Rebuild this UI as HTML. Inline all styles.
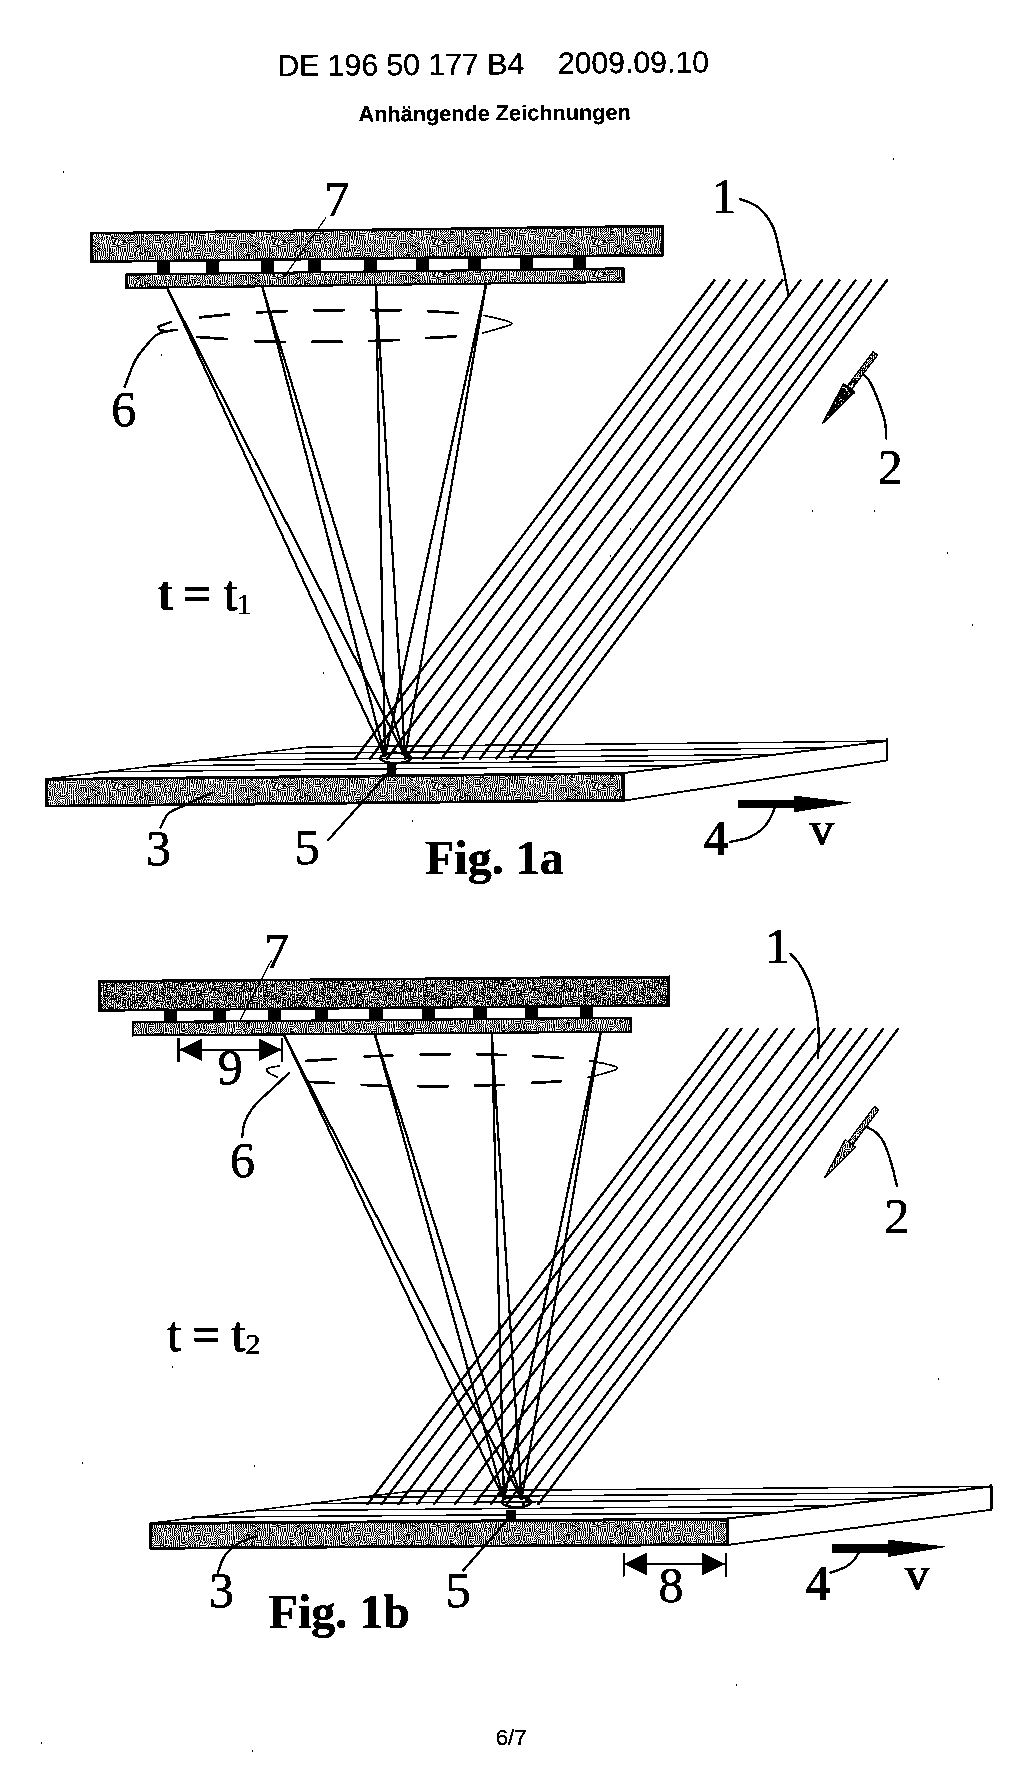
<!DOCTYPE html>
<html lang="de">
<head>
<meta charset="utf-8">
<title>DE 196 50 177 B4 – Anhängende Zeichnungen</title>
<style>
html,body{margin:0;padding:0;background:#fff;}
body{width:1024px;height:1771px;overflow:hidden;}
svg{display:block;}
text{fill:#000;}
</style>
</head>
<body>
<svg width="1024" height="1771" viewBox="0 0 1024 1771">
<defs>
<pattern id="dz" width="160" height="32" patternUnits="userSpaceOnUse">
<rect width="160" height="32" fill="#fff"/>
<path d="M0 0v1h1v-1zM0 2v1h1v-1zM0 5v1h1v-1zM0 7v4h1v-4zM0 13v1h1v-1zM0 15v5h1v-5zM0 24v4h1v-4zM1 1v1h1v-1zM1 3v5h1v-5zM1 9v1h1v-1zM1 13v1h1v-1zM1 15v1h1v-1zM1 20v4h1v-4zM1 28v4h1v-4zM2 0v1h1v-1zM2 2v1h1v-1zM2 8v2h1v-2zM2 11v2h1v-2zM2 14v1h1v-1zM2 16v1h1v-1zM2 18v2h1v-2zM2 24v2h1v-2zM2 27v1h1v-1zM3 1v1h1v-1zM3 3v8h1v-8zM3 13v1h1v-1zM3 15v1h1v-1zM3 20v4h1v-4zM3 29v3h1v-3zM4 10v3h1v-3zM4 14v1h1v-1zM4 16v4h1v-4zM4 24v4h1v-4zM5 0v8h1v-8zM5 9v2h1v-2zM5 13v1h1v-1zM5 15v1h1v-1zM5 17v2h1v-2zM5 20v5h1v-5zM5 26v1h1v-1zM6 4v4h1v-4zM6 9v1h1v-1zM6 11v2h1v-2zM6 14v1h1v-1zM6 17v1h1v-1zM6 20v1h1v-1zM6 22v1h1v-1zM6 24v1h1v-1zM6 26v6h1v-6zM7 0v2h1v-2zM7 3v1h1v-1zM7 9v1h1v-1zM7 11v1h1v-1zM7 13v1h1v-1zM7 15v2h1v-2zM7 18v1h1v-1zM7 23v1h1v-1zM8 4v4h1v-4zM8 10v1h1v-1zM8 12v1h1v-1zM8 14v1h1v-1zM8 17v2h1v-2zM8 20v1h1v-1zM8 24v2h1v-2zM8 27v3h1v-3zM8 31v1h1v-1zM9 0v1h1v-1zM9 2v1h1v-1zM9 9v2h1v-2zM9 13v1h1v-1zM9 16v1h1v-1zM9 21v1h1v-1zM9 23v2h1v-2zM9 26v1h1v-1zM10 1v1h1v-1zM10 3v2h1v-2zM10 6v2h1v-2zM10 12v1h1v-1zM10 14v1h1v-1zM10 16v5h1v-5zM10 22v1h1v-1zM10 24v5h1v-5zM10 30v2h1v-2zM11 0v1h1v-1zM11 2v1h1v-1zM11 4v1h1v-1zM11 6v6h1v-6zM11 13v1h1v-1zM11 20v4h1v-4zM12 1v1h1v-1zM12 3v1h1v-1zM12 13v1h1v-1zM12 15v5h1v-5zM12 24v8h1v-8zM13 0v1h1v-1zM13 2v1h1v-1zM13 4v9h1v-9zM13 14v1h1v-1zM13 20v1h1v-1zM13 22v2h1v-2zM14 1v3h1v-3zM14 13v1h1v-1zM14 15v4h1v-4zM14 24v8h1v-8zM15 4v9h1v-9zM15 14v1h1v-1zM15 20v5h1v-5zM15 26v1h1v-1zM15 29v1h1v-1zM15 31v1h1v-1zM16 0v4h1v-4zM16 13v1h1v-1zM16 15v2h1v-2zM16 18v6h1v-6zM16 27v2h1v-2zM16 30v1h1v-1zM17 4v2h1v-2zM17 7v9h1v-9zM17 24v1h1v-1zM17 26v1h1v-1zM17 29v1h1v-1zM17 31v1h1v-1zM18 0v4h1v-4zM18 16v8h1v-8zM18 25v1h1v-1zM18 27v2h1v-2zM18 30v1h1v-1zM19 0v16h1v-16zM19 24v1h1v-1zM19 26v1h1v-1zM19 29v1h1v-1zM19 31v1h1v-1zM20 9v1h1v-1zM20 11v1h1v-1zM20 17v1h1v-1zM20 19v9h1v-9zM21 0v7h1v-7zM21 9v1h1v-1zM21 11v1h1v-1zM21 13v1h1v-1zM21 15v2h1v-2zM21 20v1h1v-1zM21 22v1h1v-1zM21 28v4h1v-4zM22 4v1h1v-1zM22 6v2h1v-2zM22 9v1h1v-1zM22 11v1h1v-1zM22 17v1h1v-1zM22 19v2h1v-2zM22 22v1h1v-1zM22 24v4h1v-4zM23 1v3h1v-3zM23 6v2h1v-2zM23 9v1h1v-1zM23 11v6h1v-6zM23 18v1h1v-1zM23 20v1h1v-1zM23 22v1h1v-1zM23 28v4h1v-4zM24 0v5h1v-5zM24 6v2h1v-2zM24 9v1h1v-1zM24 11v1h1v-1zM24 17v1h1v-1zM24 19v1h1v-1zM24 22v1h1v-1zM24 24v4h1v-4zM25 5v2h1v-2zM25 8v1h1v-1zM25 10v1h1v-1zM25 12v9h1v-9zM25 22v1h1v-1zM25 25v1h1v-1zM25 27v1h1v-1zM26 2v1h1v-1zM26 4v1h1v-1zM26 6v1h1v-1zM26 8v1h1v-1zM26 11v1h1v-1zM26 24v1h1v-1zM26 26v6h1v-6zM27 5v1h1v-1zM27 7v2h1v-2zM27 11v7h1v-7zM27 19v7h1v-7zM27 27v1h1v-1zM28 0v5h1v-5zM28 6v1h1v-1zM28 9v2h1v-2zM28 26v3h1v-3zM28 30v2h1v-2zM29 1v1h1v-1zM29 3v1h1v-1zM29 5v1h1v-1zM29 7v2h1v-2zM29 10v17h1v-17zM30 0v1h1v-1zM30 2v1h1v-1zM30 4v1h1v-1zM30 6v1h1v-1zM30 8v4h1v-4zM30 25v3h1v-3zM31 1v1h1v-1zM31 3v1h1v-1zM31 5v1h1v-1zM31 7v1h1v-1zM31 12v3h1v-3zM31 17v2h1v-2zM31 21v1h1v-1zM31 23v1h1v-1zM31 28v4h1v-4zM32 0v1h1v-1zM32 2v1h1v-1zM32 4v1h1v-1zM32 6v1h1v-1zM32 8v8h1v-8zM32 21v1h1v-1zM32 23v5h1v-5zM33 1v1h1v-1zM33 3v1h1v-1zM33 5v1h1v-1zM33 7v1h1v-1zM33 16v4h1v-4zM33 23v1h1v-1zM33 28v4h1v-4zM34 0v1h1v-1zM34 2v3h1v-3zM34 6v1h1v-1zM34 8v8h1v-8zM34 21v1h1v-1zM34 23v5h1v-5zM35 5v1h1v-1zM35 7v5h1v-5zM35 21v1h1v-1zM35 23v1h1v-1zM35 25v2h1v-2zM35 29v1h1v-1zM35 31v1h1v-1zM36 0v3h1v-3zM36 4v2h1v-2zM36 12v1h1v-1zM36 14v7h1v-7zM36 22v1h1v-1zM36 24v1h1v-1zM36 29v1h1v-1zM36 31v1h1v-1zM37 4v1h1v-1zM37 6v1h1v-1zM37 8v8h1v-8zM37 21v1h1v-1zM37 23v1h1v-1zM37 26v2h1v-2zM37 29v1h1v-1zM37 31v1h1v-1zM38 0v5h1v-5zM38 16v4h1v-4zM38 22v1h1v-1zM38 24v1h1v-1zM38 26v1h1v-1zM38 29v1h1v-1zM38 31v1h1v-1zM39 1v3h1v-3zM39 6v6h1v-6zM39 13v3h1v-3zM39 21v1h1v-1zM39 23v2h1v-2zM39 26v1h1v-1zM39 29v1h1v-1zM39 31v1h1v-1zM40 4v3h1v-3zM40 9v1h1v-1zM40 11v1h1v-1zM40 16v5h1v-5zM40 22v1h1v-1zM40 25v1h1v-1zM40 27v5h1v-5zM41 0v4h1v-4zM41 5v1h1v-1zM41 9v1h1v-1zM41 11v5h1v-5zM41 24v1h1v-1zM41 26v1h1v-1zM42 6v2h1v-2zM42 9v1h1v-1zM42 11v1h1v-1zM42 16v8h1v-8zM42 25v1h1v-1zM42 27v5h1v-5zM43 0v5h1v-5zM43 9v1h1v-1zM43 11v5h1v-5zM43 24v1h1v-1zM43 26v1h1v-1zM44 0v1h1v-1zM44 2v3h1v-3zM44 6v2h1v-2zM44 9v1h1v-1zM44 11v1h1v-1zM44 16v8h1v-8zM44 25v1h1v-1zM44 28v1h1v-1zM44 30v2h1v-2zM45 5v2h1v-2zM45 9v1h1v-1zM45 12v1h1v-1zM45 14v2h1v-2zM45 17v3h1v-3zM45 24v4h1v-4zM45 29v1h1v-1zM45 31v1h1v-1zM46 0v5h1v-5zM46 6v1h1v-1zM46 8v1h1v-1zM46 20v1h1v-1zM46 22v1h1v-1zM46 29v1h1v-1zM47 5v1h1v-1zM47 7v1h1v-1zM47 16v4h1v-4zM47 21v1h1v-1zM47 24v4h1v-4zM47 29v1h1v-1zM47 31v1h1v-1zM48 0v1h1v-1zM48 2v3h1v-3zM48 6v1h1v-1zM48 9v7h1v-7zM48 20v1h1v-1zM48 22v1h1v-1zM48 29v1h1v-1zM48 31v1h1v-1zM49 5v1h1v-1zM49 7v2h1v-2zM49 16v1h1v-1zM49 18v1h1v-1zM49 21v1h1v-1zM49 23v5h1v-5zM49 29v1h1v-1zM49 31v1h1v-1zM50 0v1h1v-1zM50 2v3h1v-3zM50 6v1h1v-1zM50 10v1h1v-1zM50 13v4h1v-4zM50 18v1h1v-1zM50 20v1h1v-1zM50 22v1h1v-1zM50 24v4h1v-4zM51 5v1h1v-1zM51 7v2h1v-2zM51 10v1h1v-1zM51 17v1h1v-1zM51 19v1h1v-1zM51 28v4h1v-4zM52 0v1h1v-1zM52 2v2h1v-2zM52 7v2h1v-2zM52 10v1h1v-1zM52 16v1h1v-1zM52 18v1h1v-1zM52 21v7h1v-7zM53 5v1h1v-1zM53 7v1h1v-1zM53 10v1h1v-1zM53 12v4h1v-4zM53 17v1h1v-1zM53 19v1h1v-1zM53 28v4h1v-4zM54 1v1h1v-1zM54 3v1h1v-1zM54 5v1h1v-1zM54 7v2h1v-2zM54 10v1h1v-1zM54 16v1h1v-1zM54 18v1h1v-1zM54 20v8h1v-8zM55 0v1h1v-1zM55 2v1h1v-1zM55 5v1h1v-1zM55 7v1h1v-1zM55 9v1h1v-1zM55 11v3h1v-3zM55 15v5h1v-5zM55 25v1h1v-1zM55 27v1h1v-1zM55 29v1h1v-1zM55 31v1h1v-1zM56 1v1h1v-1zM56 3v6h1v-6zM56 10v1h1v-1zM56 20v1h1v-1zM56 22v1h1v-1zM56 24v1h1v-1zM56 26v1h1v-1zM56 28v1h1v-1zM56 30v1h1v-1zM57 0v1h1v-1zM57 2v1h1v-1zM57 9v1h1v-1zM57 11v1h1v-1zM57 13v1h1v-1zM57 16v4h1v-4zM57 21v1h1v-1zM57 23v1h1v-1zM57 27v1h1v-1zM57 29v1h1v-1zM57 31v1h1v-1zM58 1v1h1v-1zM58 3v6h1v-6zM58 10v1h1v-1zM58 13v1h1v-1zM58 20v1h1v-1zM58 22v1h1v-1zM58 24v1h1v-1zM58 26v1h1v-1zM58 28v1h1v-1zM58 30v1h1v-1zM59 1v1h1v-1zM59 3v1h1v-1zM59 9v1h1v-1zM59 11v2h1v-2zM59 14v6h1v-6zM59 21v1h1v-1zM59 25v1h1v-1zM59 27v1h1v-1zM59 29v1h1v-1zM59 31v1h1v-1zM60 2v1h1v-1zM60 4v4h1v-4zM60 9v1h1v-1zM60 11v2h1v-2zM60 14v1h1v-1zM60 20v1h1v-1zM60 22v1h1v-1zM60 24v5h1v-5zM60 30v1h1v-1zM61 3v1h1v-1zM61 8v1h1v-1zM61 10v1h1v-1zM61 12v1h1v-1zM61 16v4h1v-4zM61 28v1h1v-1zM61 30v1h1v-1zM62 0v1h1v-1zM62 2v1h1v-1zM62 4v4h1v-4zM62 9v1h1v-1zM62 11v1h1v-1zM62 20v6h1v-6zM62 27v2h1v-2zM62 30v1h1v-1zM63 1v1h1v-1zM63 3v1h1v-1zM63 8v1h1v-1zM63 10v1h1v-1zM63 12v5h1v-5zM63 18v2h1v-2zM63 28v1h1v-1zM63 30v1h1v-1zM64 4v4h1v-4zM64 9v1h1v-1zM64 11v1h1v-1zM64 20v6h1v-6zM64 27v2h1v-2zM64 30v1h1v-1zM65 0v4h1v-4zM65 12v8h1v-8zM65 27v1h1v-1zM65 29v1h1v-1zM65 31v1h1v-1zM66 8v4h1v-4zM66 24v3h1v-3zM66 28v1h1v-1zM66 30v1h1v-1zM67 0v8h1v-8zM67 12v1h1v-1zM67 14v1h1v-1zM67 16v9h1v-9zM67 26v2h1v-2zM67 29v1h1v-1zM67 31v1h1v-1zM68 8v5h1v-5zM68 14v1h1v-1zM68 25v1h1v-1zM68 28v1h1v-1zM68 30v1h1v-1zM69 0v5h1v-5zM69 6v2h1v-2zM69 12v1h1v-1zM69 14v1h1v-1zM69 16v5h1v-5zM69 22v2h1v-2zM69 25v1h1v-1zM69 27v1h1v-1zM69 29v1h1v-1zM69 31v1h1v-1zM70 8v1h1v-1zM70 10v3h1v-3zM70 14v1h1v-1zM70 16v1h1v-1zM70 18v1h1v-1zM71 0v4h1v-4zM71 8v2h1v-2zM71 14v1h1v-1zM71 17v1h1v-1zM71 19v7h1v-7zM71 27v4h1v-4zM72 4v6h1v-6zM72 12v1h1v-1zM72 14v1h1v-1zM72 16v1h1v-1zM72 18v1h1v-1zM73 0v4h1v-4zM73 8v1h1v-1zM73 10v1h1v-1zM73 12v1h1v-1zM73 14v1h1v-1zM73 17v1h1v-1zM73 19v2h1v-2zM73 22v10h1v-10zM74 0v8h1v-8zM74 10v3h1v-3zM74 14v1h1v-1zM74 16v1h1v-1zM74 18v1h1v-1zM75 9v1h1v-1zM75 11v2h1v-2zM75 14v1h1v-1zM75 20v4h1v-4zM75 25v1h1v-1zM75 27v1h1v-1zM76 0v3h1v-3zM76 5v1h1v-1zM76 8v1h1v-1zM76 10v1h1v-1zM76 12v1h1v-1zM76 16v5h1v-5zM76 22v1h1v-1zM76 24v1h1v-1zM76 26v1h1v-1zM76 28v4h1v-4zM77 5v1h1v-1zM77 7v1h1v-1zM77 9v1h1v-1zM77 11v1h1v-1zM77 13v3h1v-3zM77 21v1h1v-1zM77 23v1h1v-1zM77 25v1h1v-1zM77 27v1h1v-1zM78 0v4h1v-4zM78 5v1h1v-1zM78 8v1h1v-1zM78 10v1h1v-1zM78 16v5h1v-5zM78 22v1h1v-1zM78 24v1h1v-1zM78 26v1h1v-1zM78 28v4h1v-4zM79 0v1h1v-1zM79 2v1h1v-1zM79 5v1h1v-1zM79 7v1h1v-1zM79 9v1h1v-1zM79 12v4h1v-4zM79 21v1h1v-1zM79 23v1h1v-1zM79 25v1h1v-1zM79 27v1h1v-1zM80 1v1h1v-1zM80 3v1h1v-1zM80 5v1h1v-1zM80 7v1h1v-1zM80 17v1h1v-1zM80 19v2h1v-2zM80 22v1h1v-1zM80 24v1h1v-1zM80 26v1h1v-1zM80 28v1h1v-1zM80 30v1h1v-1zM81 0v1h1v-1zM81 2v1h1v-1zM81 4v1h1v-1zM81 6v1h1v-1zM81 8v8h1v-8zM81 17v1h1v-1zM81 19v5h1v-5zM81 25v1h1v-1zM81 27v1h1v-1zM81 29v1h1v-1zM81 31v1h1v-1zM82 1v1h1v-1zM82 3v2h1v-2zM82 17v1h1v-1zM82 19v1h1v-1zM82 24v1h1v-1zM82 26v1h1v-1zM82 28v1h1v-1zM82 30v1h1v-1zM83 0v1h1v-1zM83 2v1h1v-1zM83 5v2h1v-2zM83 8v1h1v-1zM83 10v6h1v-6zM83 17v1h1v-1zM83 19v5h1v-5zM83 25v1h1v-1zM83 27v1h1v-1zM83 29v1h1v-1zM83 31v1h1v-1zM84 0v4h1v-4zM84 5v3h1v-3zM84 17v1h1v-1zM84 19v1h1v-1zM84 24v1h1v-1zM84 26v1h1v-1zM84 30v1h1v-1zM85 4v2h1v-2zM85 7v9h1v-9zM85 17v1h1v-1zM85 19v5h1v-5zM85 29v1h1v-1zM85 31v1h1v-1zM86 0v4h1v-4zM86 5v1h1v-1zM86 7v1h1v-1zM86 16v1h1v-1zM86 18v1h1v-1zM86 20v5h1v-5zM86 26v2h1v-2zM86 30v2h1v-2zM87 4v1h1v-1zM87 6v1h1v-1zM87 8v3h1v-3zM87 12v1h1v-1zM87 14v1h1v-1zM87 17v1h1v-1zM87 19v1h1v-1zM87 28v4h1v-4zM88 0v4h1v-4zM88 7v1h1v-1zM88 13v1h1v-1zM88 15v2h1v-2zM88 18v1h1v-1zM88 20v9h1v-9zM88 30v2h1v-2zM89 0v3h1v-3zM89 4v1h1v-1zM89 6v1h1v-1zM89 9v2h1v-2zM89 12v1h1v-1zM89 14v1h1v-1zM89 17v1h1v-1zM89 19v1h1v-1zM89 28v1h1v-1zM89 30v2h1v-2zM90 5v1h1v-1zM90 8v1h1v-1zM90 10v2h1v-2zM90 13v1h1v-1zM90 15v1h1v-1zM90 17v1h1v-1zM90 19v6h1v-6zM90 26v1h1v-1zM90 28v1h1v-1zM90 30v1h1v-1zM91 0v2h1v-2zM91 3v1h1v-1zM91 6v4h1v-4zM91 11v2h1v-2zM91 14v1h1v-1zM91 16v1h1v-1zM91 18v1h1v-1zM91 21v1h1v-1zM91 25v1h1v-1zM91 27v1h1v-1zM91 29v1h1v-1zM91 31v1h1v-1zM92 4v6h1v-6zM92 11v2h1v-2zM92 14v1h1v-1zM92 17v1h1v-1zM92 19v6h1v-6zM92 26v1h1v-1zM92 28v1h1v-1zM92 30v1h1v-1zM93 0v4h1v-4zM93 5v1h1v-1zM93 9v1h1v-1zM93 15v2h1v-2zM93 18v1h1v-1zM93 21v2h1v-2zM93 25v1h1v-1zM93 27v1h1v-1zM93 29v1h1v-1zM93 31v1h1v-1zM94 4v6h1v-6zM94 12v1h1v-1zM94 17v1h1v-1zM94 19v1h1v-1zM94 21v2h1v-2zM94 24v1h1v-1zM94 26v1h1v-1zM94 28v1h1v-1zM94 30v1h1v-1zM95 0v4h1v-4zM95 13v1h1v-1zM95 15v2h1v-2zM95 18v3h1v-3zM95 22v2h1v-2zM95 25v7h1v-7zM96 4v1h1v-1zM96 6v1h1v-1zM96 8v5h1v-5zM96 14v1h1v-1zM96 18v1h1v-1zM96 20v1h1v-1zM96 22v1h1v-1zM96 26v2h1v-2zM97 0v5h1v-5zM97 6v1h1v-1zM97 13v1h1v-1zM97 15v1h1v-1zM97 17v1h1v-1zM97 19v1h1v-1zM97 21v1h1v-1zM97 23v3h1v-3zM97 27v5h1v-5zM98 4v1h1v-1zM98 6v1h1v-1zM98 8v5h1v-5zM98 14v1h1v-1zM98 16v1h1v-1zM98 18v3h1v-3zM98 22v1h1v-1zM98 24v2h1v-2zM98 27v1h1v-1zM99 4v1h1v-1zM99 6v1h1v-1zM99 13v1h1v-1zM99 15v1h1v-1zM99 17v1h1v-1zM99 19v1h1v-1zM99 21v1h1v-1zM99 23v4h1v-4zM99 28v4h1v-4zM100 0v5h1v-5zM100 6v1h1v-1zM100 14v1h1v-1zM100 20v1h1v-1zM100 22v1h1v-1zM100 24v1h1v-1zM100 26v1h1v-1zM101 4v8h1v-8zM101 13v1h1v-1zM101 15v3h1v-3zM101 19v1h1v-1zM101 25v1h1v-1zM101 27v5h1v-5zM102 0v2h1v-2zM102 3v1h1v-1zM102 12v4h1v-4zM102 20v5h1v-5zM102 26v1h1v-1zM103 4v8h1v-8zM103 16v1h1v-1zM103 18v2h1v-2zM103 25v1h1v-1zM103 27v5h1v-5zM104 1v1h1v-1zM104 3v1h1v-1zM104 13v3h1v-3zM104 20v5h1v-5zM104 26v1h1v-1zM105 0v1h1v-1zM105 2v1h1v-1zM105 4v2h1v-2zM105 7v1h1v-1zM105 10v1h1v-1zM105 24v8h1v-8zM106 1v1h1v-1zM106 3v2h1v-2zM106 6v1h1v-1zM106 8v1h1v-1zM106 10v1h1v-1zM106 12v3h1v-3zM106 16v4h1v-4zM107 0v1h1v-1zM107 2v1h1v-1zM107 8v1h1v-1zM107 10v1h1v-1zM107 12v2h1v-2zM107 15v1h1v-1zM107 20v8h1v-8zM107 29v3h1v-3zM108 1v1h1v-1zM108 3v6h1v-6zM108 10v1h1v-1zM108 16v4h1v-4zM109 0v4h1v-4zM109 8v1h1v-1zM109 10v1h1v-1zM109 13v3h1v-3zM109 20v12h1v-12zM110 4v8h1v-8zM110 16v1h1v-1zM110 18v2h1v-2zM110 24v4h1v-4zM110 29v1h1v-1zM110 31v1h1v-1zM111 0v5h1v-5zM111 6v1h1v-1zM111 12v4h1v-4zM111 22v1h1v-1zM111 28v2h1v-2zM112 5v1h1v-1zM112 7v3h1v-3zM112 11v4h1v-4zM112 16v3h1v-3zM112 20v1h1v-1zM112 22v1h1v-1zM112 24v5h1v-5zM112 30v2h1v-2zM113 1v4h1v-4zM113 6v1h1v-1zM113 13v2h1v-2zM113 18v3h1v-3zM113 22v1h1v-1zM113 28v1h1v-1zM113 30v2h1v-2zM114 5v1h1v-1zM114 7v6h1v-6zM114 14v1h1v-1zM114 16v5h1v-5zM114 22v1h1v-1zM114 25v3h1v-3zM114 29v1h1v-1zM114 31v1h1v-1zM115 0v5h1v-5zM115 6v1h1v-1zM115 12v1h1v-1zM115 14v4h1v-4zM115 20v1h1v-1zM115 22v1h1v-1zM116 4v9h1v-9zM116 14v2h1v-2zM116 21v1h1v-1zM116 23v4h1v-4zM116 28v4h1v-4zM117 0v4h1v-4zM117 12v1h1v-1zM117 14v1h1v-1zM117 19v4h1v-4zM118 4v4h1v-4zM118 9v3h1v-3zM118 13v1h1v-1zM118 15v4h1v-4zM118 21v9h1v-9zM118 31v1h1v-1zM119 12v1h1v-1zM119 14v1h1v-1zM119 16v1h1v-1zM119 21v1h1v-1zM119 23v1h1v-1zM120 0v9h1v-9zM120 10v1h1v-1zM120 13v1h1v-1zM120 15v1h1v-1zM120 19v1h1v-1zM120 21v1h1v-1zM120 23v5h1v-5zM121 5v1h1v-1zM121 7v1h1v-1zM121 9v1h1v-1zM121 11v2h1v-2zM121 14v1h1v-1zM121 16v1h1v-1zM121 20v1h1v-1zM121 22v1h1v-1zM121 28v4h1v-4zM122 0v5h1v-5zM122 6v1h1v-1zM122 8v1h1v-1zM122 10v1h1v-1zM122 13v1h1v-1zM122 15v2h1v-2zM122 18v1h1v-1zM122 20v1h1v-1zM122 22v1h1v-1zM122 24v4h1v-4zM123 5v1h1v-1zM123 7v1h1v-1zM123 11v2h1v-2zM123 14v1h1v-1zM123 16v5h1v-5zM123 22v1h1v-1zM123 28v4h1v-4zM124 4v1h1v-1zM124 6v1h1v-1zM124 8v1h1v-1zM124 10v1h1v-1zM124 13v1h1v-1zM124 15v4h1v-4zM124 20v1h1v-1zM124 22v1h1v-1zM124 24v4h1v-4zM125 0v4h1v-4zM125 5v1h1v-1zM125 7v1h1v-1zM125 10v1h1v-1zM125 12v1h1v-1zM125 14v1h1v-1zM125 16v3h1v-3zM125 20v1h1v-1zM125 22v1h1v-1zM125 24v4h1v-4zM126 4v4h1v-4zM126 9v1h1v-1zM126 11v1h1v-1zM126 13v1h1v-1zM126 18v2h1v-2zM126 28v4h1v-4zM127 0v4h1v-4zM127 8v1h1v-1zM127 10v1h1v-1zM127 13v1h1v-1zM127 15v2h1v-2zM127 18v1h1v-1zM127 20v8h1v-8zM128 4v4h1v-4zM128 9v1h1v-1zM128 11v2h1v-2zM128 14v1h1v-1zM128 16v2h1v-2zM128 19v1h1v-1zM128 28v4h1v-4zM129 0v1h1v-1zM129 2v1h1v-1zM129 10v1h1v-1zM129 13v1h1v-1zM129 15v2h1v-2zM129 18v10h1v-10zM130 0v1h1v-1zM130 2v1h1v-1zM130 4v9h1v-9zM130 14v1h1v-1zM130 16v1h1v-1zM130 18v1h1v-1zM130 29v3h1v-3zM131 0v1h1v-1zM131 2v1h1v-1zM131 4v2h1v-2zM131 7v2h1v-2zM131 10v1h1v-1zM131 13v1h1v-1zM131 15v2h1v-2zM131 18v1h1v-1zM131 20v1h1v-1zM131 22v1h1v-1zM131 24v4h1v-4zM132 0v1h1v-1zM132 2v1h1v-1zM132 5v1h1v-1zM132 7v4h1v-4zM132 13v1h1v-1zM132 15v2h1v-2zM132 18v1h1v-1zM132 23v1h1v-1zM132 28v1h1v-1zM132 30v2h1v-2zM133 2v1h1v-1zM133 4v1h1v-1zM133 7v2h1v-2zM133 10v1h1v-1zM133 12v1h1v-1zM133 14v1h1v-1zM133 16v1h1v-1zM133 18v1h1v-1zM133 20v1h1v-1zM133 22v1h1v-1zM133 24v4h1v-4zM134 1v1h1v-1zM134 3v1h1v-1zM134 8v1h1v-1zM134 10v2h1v-2zM134 13v1h1v-1zM134 15v1h1v-1zM134 18v1h1v-1zM134 21v1h1v-1zM134 23v1h1v-1zM134 28v4h1v-4zM135 0v1h1v-1zM135 2v1h1v-1zM135 6v2h1v-2zM135 12v1h1v-1zM135 14v1h1v-1zM135 16v2h1v-2zM135 19v2h1v-2zM135 22v1h1v-1zM135 24v1h1v-1zM135 27v5h1v-5zM136 1v1h1v-1zM136 3v1h1v-1zM136 8v4h1v-4zM136 13v1h1v-1zM136 15v1h1v-1zM136 20v1h1v-1zM136 22v1h1v-1zM136 24v4h1v-4zM137 0v1h1v-1zM137 2v1h1v-1zM137 4v1h1v-1zM137 6v1h1v-1zM137 12v8h1v-8zM137 21v3h1v-3zM137 26v1h1v-1zM137 28v1h1v-1zM137 30v2h1v-2zM138 1v1h1v-1zM138 3v1h1v-1zM138 5v1h1v-1zM138 7v2h1v-2zM138 10v2h1v-2zM138 21v3h1v-3zM138 25v1h1v-1zM139 4v1h1v-1zM139 6v1h1v-1zM139 12v11h1v-11zM139 24v1h1v-1zM139 28v4h1v-4zM140 0v4h1v-4zM140 5v1h1v-1zM140 7v1h1v-1zM140 21v1h1v-1zM140 23v7h1v-7zM140 31v1h1v-1zM141 4v17h1v-17zM141 22v1h1v-1zM141 28v3h1v-3zM142 0v4h1v-4zM142 12v1h1v-1zM142 14v2h1v-2zM142 21v1h1v-1zM142 23v5h1v-5zM142 29v2h1v-2zM143 4v10h1v-10zM143 15v3h1v-3zM143 19v2h1v-2zM143 22v1h1v-1zM143 29v1h1v-1zM144 0v4h1v-4zM144 21v1h1v-1zM144 23v6h1v-6zM144 31v1h1v-1zM145 4v5h1v-5zM145 13v2h1v-2zM145 16v2h1v-2zM145 19v2h1v-2zM145 22v1h1v-1zM145 25v7h1v-7zM146 0v11h1v-11zM146 12v1h1v-1zM146 14v2h1v-2zM146 23v1h1v-1zM146 25v1h1v-1zM146 27v1h1v-1zM147 9v2h1v-2zM147 12v1h1v-1zM147 14v1h1v-1zM147 16v5h1v-5zM147 22v1h1v-1zM147 24v1h1v-1zM147 26v6h1v-6zM148 0v8h1v-8zM148 9v1h1v-1zM148 11v1h1v-1zM148 13v1h1v-1zM148 15v1h1v-1zM148 21v1h1v-1zM148 23v3h1v-3zM148 27v1h1v-1zM149 0v1h1v-1zM149 2v1h1v-1zM149 8v1h1v-1zM149 12v1h1v-1zM149 14v1h1v-1zM149 16v5h1v-5zM149 22v1h1v-1zM149 24v1h1v-1zM149 27v5h1v-5zM150 0v1h1v-1zM150 2v1h1v-1zM150 4v3h1v-3zM150 9v1h1v-1zM150 11v1h1v-1zM150 13v1h1v-1zM150 17v1h1v-1zM150 19v1h1v-1zM150 21v1h1v-1zM150 23v2h1v-2zM150 26v1h1v-1zM150 28v4h1v-4zM151 0v1h1v-1zM151 2v1h1v-1zM151 4v1h1v-1zM151 6v1h1v-1zM151 8v1h1v-1zM151 10v1h1v-1zM151 12v1h1v-1zM151 14v1h1v-1zM151 16v1h1v-1zM151 18v1h1v-1zM151 25v1h1v-1zM151 27v1h1v-1zM152 0v1h1v-1zM152 2v1h1v-1zM152 5v1h1v-1zM152 7v1h1v-1zM152 9v1h1v-1zM152 11v1h1v-1zM152 17v1h1v-1zM152 19v6h1v-6zM152 26v1h1v-1zM152 28v4h1v-4zM153 0v1h1v-1zM153 2v1h1v-1zM153 4v1h1v-1zM153 8v1h1v-1zM153 10v1h1v-1zM153 12v5h1v-5zM153 18v1h1v-1zM153 25v1h1v-1zM153 27v1h1v-1zM154 5v1h1v-1zM154 7v1h1v-1zM154 9v1h1v-1zM154 11v1h1v-1zM154 20v5h1v-5zM154 26v1h1v-1zM154 28v4h1v-4zM155 0v5h1v-5zM155 6v1h1v-1zM155 9v1h1v-1zM155 11v6h1v-6zM155 18v1h1v-1zM155 24v4h1v-4zM155 29v1h1v-1zM155 31v1h1v-1zM156 5v1h1v-1zM156 7v1h1v-1zM156 9v1h1v-1zM156 11v1h1v-1zM156 16v1h1v-1zM156 18v1h1v-1zM156 21v3h1v-3zM156 28v1h1v-1zM156 30v1h1v-1zM157 0v5h1v-5zM157 6v1h1v-1zM157 9v1h1v-1zM157 11v3h1v-3zM157 15v2h1v-2zM157 18v1h1v-1zM157 24v4h1v-4zM157 29v1h1v-1zM157 31v1h1v-1zM158 5v1h1v-1zM158 7v1h1v-1zM158 9v1h1v-1zM158 11v1h1v-1zM158 16v1h1v-1zM158 18v1h1v-1zM158 20v2h1v-2zM158 23v1h1v-1zM158 28v1h1v-1zM158 30v1h1v-1zM159 0v5h1v-5zM159 6v1h1v-1zM159 9v1h1v-1zM159 11v6h1v-6zM159 18v1h1v-1zM159 24v1h1v-1zM159 26v2h1v-2zM159 29v1h1v-1zM159 31v1h1v-1z" fill="#000" shape-rendering="crispEdges"/>
</pattern>
<pattern id="dk" width="160" height="32" patternUnits="userSpaceOnUse">
<rect width="160" height="32" fill="#fff"/>
<path d="M0 0v1h1v-1zM0 3v2h1v-2zM0 6v1h1v-1zM0 8v2h1v-2zM0 11v1h1v-1zM0 16v2h1v-2zM0 22v2h1v-2zM0 25v1h1v-1zM0 30v1h1v-1zM1 0v3h1v-3zM1 4v1h1v-1zM1 9v1h1v-1zM1 11v13h1v-13zM1 26v1h1v-1zM1 28v2h1v-2zM1 31v1h1v-1zM2 0v3h1v-3zM2 4v6h1v-6zM2 11v2h1v-2zM2 16v1h1v-1zM2 18v1h1v-1zM2 22v1h1v-1zM2 26v5h1v-5zM3 0v4h1v-4zM3 5v2h1v-2zM3 9v2h1v-2zM3 13v6h1v-6zM3 20v6h1v-6zM3 28v4h1v-4zM4 0v1h1v-1zM4 2v7h1v-7zM4 12v1h1v-1zM4 16v1h1v-1zM4 18v1h1v-1zM4 20v8h1v-8zM4 29v1h1v-1zM5 0v2h1v-2zM5 3v1h1v-1zM5 8v7h1v-7zM5 16v3h1v-3zM5 23v1h1v-1zM5 25v7h1v-7zM6 3v3h1v-3zM6 7v1h1v-1zM6 10v1h1v-1zM6 14v1h1v-1zM6 16v3h1v-3zM6 20v4h1v-4zM6 27v1h1v-1zM7 1v3h1v-3zM7 5v3h1v-3zM7 9v4h1v-4zM7 15v2h1v-2zM7 18v1h1v-1zM7 21v1h1v-1zM7 24v8h1v-8zM8 0v1h1v-1zM8 2v1h1v-1zM8 4v2h1v-2zM8 7v1h1v-1zM8 9v4h1v-4zM8 14v1h1v-1zM8 16v1h1v-1zM8 20v5h1v-5zM8 26v2h1v-2zM8 30v1h1v-1zM9 0v2h1v-2zM9 3v1h1v-1zM9 5v3h1v-3zM9 9v1h1v-1zM9 12v4h1v-4zM9 17v2h1v-2zM9 23v9h1v-9zM10 2v10h1v-10zM10 15v1h1v-1zM10 20v2h1v-2zM10 23v1h1v-1zM10 25v1h1v-1zM10 27v2h1v-2zM11 0v1h1v-1zM11 4v3h1v-3zM11 12v8h1v-8zM11 21v1h1v-1zM11 25v1h1v-1zM11 27v4h1v-4zM12 0v1h1v-1zM12 2v2h1v-2zM12 5v1h1v-1zM12 7v7h1v-7zM12 19v10h1v-10zM12 30v2h1v-2zM13 0v1h1v-1zM13 4v1h1v-1zM13 6v1h1v-1zM13 10v1h1v-1zM13 12v4h1v-4zM13 17v2h1v-2zM13 22v1h1v-1zM13 28v1h1v-1zM13 30v2h1v-2zM14 0v2h1v-2zM14 3v1h1v-1zM14 5v1h1v-1zM14 7v5h1v-5zM14 15v3h1v-3zM14 19v12h1v-12zM15 4v1h1v-1zM15 6v1h1v-1zM15 8v3h1v-3zM15 12v4h1v-4zM15 17v1h1v-1zM15 20v3h1v-3zM15 26v4h1v-4zM15 31v1h1v-1zM16 0v6h1v-6zM16 7v6h1v-6zM16 15v6h1v-6zM16 22v1h1v-1zM16 24v3h1v-3zM16 28v3h1v-3zM17 0v1h1v-1zM17 4v1h1v-1zM17 6v1h1v-1zM17 12v5h1v-5zM17 20v3h1v-3zM17 24v2h1v-2zM17 29v1h1v-1zM17 31v1h1v-1zM18 0v8h1v-8zM18 10v2h1v-2zM18 20v9h1v-9zM18 30v1h1v-1zM19 0v1h1v-1zM19 2v2h1v-2zM19 8v2h1v-2zM19 11v3h1v-3zM19 15v9h1v-9zM19 28v2h1v-2zM19 31v1h1v-1zM20 0v8h1v-8zM20 9v1h1v-1zM20 11v3h1v-3zM20 23v6h1v-6zM20 30v1h1v-1zM21 3v3h1v-3zM21 7v1h1v-1zM21 9v4h1v-4zM21 14v7h1v-7zM21 22v4h1v-4zM21 28v2h1v-2zM21 31v1h1v-1zM22 0v9h1v-9zM22 10v2h1v-2zM22 15v1h1v-1zM22 20v5h1v-5zM22 26v1h1v-1zM23 2v2h1v-2zM23 5v1h1v-1zM23 7v2h1v-2zM23 10v1h1v-1zM23 12v4h1v-4zM23 19v8h1v-8zM23 28v4h1v-4zM24 1v1h1v-1zM24 3v1h1v-1zM24 5v6h1v-6zM24 13v1h1v-1zM24 16v5h1v-5zM24 22v1h1v-1zM24 24v1h1v-1zM24 26v1h1v-1zM24 28v1h1v-1zM24 30v1h1v-1zM25 0v6h1v-6zM25 7v2h1v-2zM25 11v5h1v-5zM25 20v1h1v-1zM25 22v3h1v-3zM25 26v1h1v-1zM25 28v4h1v-4zM26 3v9h1v-9zM26 18v4h1v-4zM26 24v1h1v-1zM26 26v1h1v-1zM26 29v1h1v-1zM26 31v1h1v-1zM27 0v4h1v-4zM27 5v1h1v-1zM27 8v1h1v-1zM27 10v3h1v-3zM27 14v1h1v-1zM27 16v1h1v-1zM27 20v1h1v-1zM27 22v3h1v-3zM27 28v4h1v-4zM28 4v1h1v-1zM28 6v2h1v-2zM28 12v2h1v-2zM28 15v1h1v-1zM28 17v1h1v-1zM28 19v2h1v-2zM28 22v1h1v-1zM28 25v3h1v-3zM28 30v1h1v-1zM29 0v4h1v-4zM29 8v5h1v-5zM29 14v1h1v-1zM29 17v1h1v-1zM29 19v2h1v-2zM29 22v1h1v-1zM29 25v2h1v-2zM29 28v2h1v-2zM29 31v1h1v-1zM30 3v5h1v-5zM30 9v1h1v-1zM30 12v5h1v-5zM30 18v2h1v-2zM30 21v1h1v-1zM30 24v4h1v-4zM30 29v2h1v-2zM31 0v4h1v-4zM31 5v8h1v-8zM31 14v2h1v-2zM31 18v1h1v-1zM31 20v3h1v-3zM31 29v1h1v-1zM31 31v1h1v-1zM32 0v4h1v-4zM32 5v2h1v-2zM32 11v1h1v-1zM32 14v1h1v-1zM32 16v1h1v-1zM32 18v1h1v-1zM32 21v1h1v-1zM32 23v4h1v-4zM32 29v1h1v-1zM32 31v1h1v-1zM33 1v1h1v-1zM33 3v9h1v-9zM33 15v1h1v-1zM33 20v1h1v-1zM33 22v6h1v-6zM33 29v1h1v-1zM33 31v1h1v-1zM34 0v4h1v-4zM34 11v2h1v-2zM34 14v5h1v-5zM34 24v3h1v-3zM34 29v1h1v-1zM34 31v1h1v-1zM35 4v8h1v-8zM35 13v3h1v-3zM35 20v9h1v-9zM35 31v1h1v-1zM36 0v4h1v-4zM36 8v1h1v-1zM36 12v3h1v-3zM36 16v4h1v-4zM36 24v2h1v-2zM36 28v4h1v-4zM37 1v1h1v-1zM37 3v14h1v-14zM37 18v6h1v-6zM37 28v1h1v-1zM37 30v2h1v-2zM38 1v3h1v-3zM38 5v1h1v-1zM38 8v1h1v-1zM38 11v5h1v-5zM38 17v1h1v-1zM38 19v1h1v-1zM38 22v1h1v-1zM38 24v2h1v-2zM38 27v5h1v-5zM39 1v5h1v-5zM39 7v1h1v-1zM39 9v2h1v-2zM39 12v2h1v-2zM39 15v1h1v-1zM39 17v7h1v-7zM39 26v1h1v-1zM39 30v1h1v-1zM40 0v4h1v-4zM40 5v2h1v-2zM40 8v2h1v-2zM40 12v6h1v-6zM40 19v1h1v-1zM40 22v1h1v-1zM40 24v3h1v-3zM40 30v2h1v-2zM41 0v5h1v-5zM41 6v2h1v-2zM41 9v1h1v-1zM41 11v5h1v-5zM41 17v1h1v-1zM41 19v5h1v-5zM41 28v4h1v-4zM42 0v1h1v-1zM42 2v1h1v-1zM42 4v2h1v-2zM42 7v5h1v-5zM42 17v1h1v-1zM42 19v1h1v-1zM42 22v1h1v-1zM42 24v2h1v-2zM42 27v1h1v-1zM43 0v1h1v-1zM43 2v1h1v-1zM43 6v18h1v-18zM43 25v1h1v-1zM43 28v4h1v-4zM44 0v1h1v-1zM44 2v4h1v-4zM44 7v1h1v-1zM44 20v1h1v-1zM44 24v5h1v-5zM44 30v2h1v-2zM45 0v1h1v-1zM45 2v1h1v-1zM45 4v1h1v-1zM45 8v17h1v-17zM45 28v3h1v-3zM46 0v1h1v-1zM46 2v1h1v-1zM46 4v1h1v-1zM46 7v1h1v-1zM46 11v2h1v-2zM46 14v1h1v-1zM46 24v4h1v-4zM46 29v1h1v-1zM47 2v1h1v-1zM47 4v1h1v-1zM47 6v9h1v-9zM47 16v8h1v-8zM47 28v3h1v-3zM48 0v4h1v-4zM48 9v1h1v-1zM48 12v1h1v-1zM48 15v5h1v-5zM48 21v7h1v-7zM49 0v1h1v-1zM49 4v8h1v-8zM49 13v3h1v-3zM49 17v3h1v-3zM49 22v2h1v-2zM49 27v4h1v-4zM50 0v2h1v-2zM50 3v1h1v-1zM50 9v2h1v-2zM50 14v1h1v-1zM50 16v5h1v-5zM50 22v1h1v-1zM50 25v4h1v-4zM50 31v1h1v-1zM51 0v1h1v-1zM51 4v2h1v-2zM51 7v5h1v-5zM51 13v1h1v-1zM51 16v1h1v-1zM51 20v1h1v-1zM51 28v4h1v-4zM52 4v2h1v-2zM52 7v1h1v-1zM52 10v1h1v-1zM52 12v3h1v-3zM52 16v8h1v-8zM52 25v6h1v-6zM53 0v4h1v-4zM53 5v1h1v-1zM53 7v2h1v-2zM53 10v1h1v-1zM53 15v11h1v-11zM53 28v3h1v-3zM54 0v1h1v-1zM54 4v2h1v-2zM54 7v1h1v-1zM54 9v1h1v-1zM54 11v6h1v-6zM54 20v1h1v-1zM54 22v3h1v-3zM54 26v6h1v-6zM55 0v4h1v-4zM55 5v1h1v-1zM55 7v2h1v-2zM55 10v2h1v-2zM55 16v4h1v-4zM55 21v1h1v-1zM55 23v2h1v-2zM55 26v5h1v-5zM56 2v1h1v-1zM56 5v1h1v-1zM56 7v1h1v-1zM56 9v1h1v-1zM56 11v7h1v-7zM56 20v1h1v-1zM56 22v1h1v-1zM56 26v1h1v-1zM56 28v3h1v-3zM57 1v2h1v-2zM57 4v1h1v-1zM57 6v3h1v-3zM57 10v3h1v-3zM57 14v6h1v-6zM57 21v1h1v-1zM57 23v2h1v-2zM57 26v1h1v-1zM57 28v1h1v-1zM57 30v2h1v-2zM58 0v1h1v-1zM58 2v2h1v-2zM58 5v1h1v-1zM58 7v2h1v-2zM58 10v2h1v-2zM58 13v1h1v-1zM58 15v6h1v-6zM58 22v1h1v-1zM58 26v1h1v-1zM58 28v4h1v-4zM59 0v2h1v-2zM59 4v3h1v-3zM59 9v1h1v-1zM59 11v4h1v-4zM59 16v2h1v-2zM59 20v2h1v-2zM59 23v2h1v-2zM59 26v3h1v-3zM59 30v2h1v-2zM60 0v4h1v-4zM60 5v1h1v-1zM60 7v1h1v-1zM60 10v1h1v-1zM60 13v1h1v-1zM60 15v9h1v-9zM60 25v2h1v-2zM60 28v1h1v-1zM61 0v1h1v-1zM61 4v4h1v-4zM61 11v2h1v-2zM61 14v1h1v-1zM61 16v1h1v-1zM61 18v1h1v-1zM61 23v1h1v-1zM61 25v2h1v-2zM61 28v4h1v-4zM62 0v2h1v-2zM62 3v1h1v-1zM62 8v1h1v-1zM62 10v1h1v-1zM62 12v1h1v-1zM62 14v1h1v-1zM62 16v10h1v-10zM62 27v1h1v-1zM63 0v1h1v-1zM63 2v1h1v-1zM63 4v5h1v-5zM63 12v2h1v-2zM63 15v2h1v-2zM63 18v1h1v-1zM63 20v1h1v-1zM63 22v1h1v-1zM63 25v1h1v-1zM63 27v5h1v-5zM64 1v1h1v-1zM64 3v2h1v-2zM64 8v5h1v-5zM64 16v3h1v-3zM64 21v1h1v-1zM64 23v5h1v-5zM64 31v1h1v-1zM65 0v1h1v-1zM65 2v1h1v-1zM65 4v5h1v-5zM65 12v5h1v-5zM65 18v1h1v-1zM65 20v4h1v-4zM65 25v1h1v-1zM65 27v5h1v-5zM66 0v2h1v-2zM66 3v9h1v-9zM66 14v1h1v-1zM66 18v1h1v-1zM66 20v1h1v-1zM66 25v1h1v-1zM66 27v2h1v-2zM66 30v1h1v-1zM67 0v4h1v-4zM67 10v1h1v-1zM67 13v2h1v-2zM67 16v1h1v-1zM67 18v10h1v-10zM67 29v1h1v-1zM67 31v1h1v-1zM68 0v8h1v-8zM68 9v1h1v-1zM68 11v5h1v-5zM68 18v1h1v-1zM68 23v1h1v-1zM68 28v1h1v-1zM68 30v1h1v-1zM69 0v4h1v-4zM69 6v1h1v-1zM69 8v1h1v-1zM69 10v1h1v-1zM69 12v2h1v-2zM69 17v1h1v-1zM69 19v5h1v-5zM69 25v3h1v-3zM69 29v1h1v-1zM69 31v1h1v-1zM70 1v1h1v-1zM70 3v1h1v-1zM70 5v3h1v-3zM70 9v1h1v-1zM70 11v8h1v-8zM70 23v2h1v-2zM70 27v2h1v-2zM70 30v2h1v-2zM71 0v4h1v-4zM71 6v1h1v-1zM71 8v1h1v-1zM71 10v1h1v-1zM71 14v1h1v-1zM71 17v1h1v-1zM71 19v2h1v-2zM71 22v1h1v-1zM71 24v4h1v-4zM71 29v1h1v-1zM71 31v1h1v-1zM72 0v9h1v-9zM72 11v2h1v-2zM72 14v1h1v-1zM72 16v1h1v-1zM72 18v1h1v-1zM72 23v1h1v-1zM72 25v1h1v-1zM72 27v2h1v-2zM72 30v1h1v-1zM73 3v1h1v-1zM73 9v1h1v-1zM73 11v2h1v-2zM73 14v1h1v-1zM73 19v4h1v-4zM73 24v1h1v-1zM73 26v1h1v-1zM73 29v1h1v-1zM73 31v1h1v-1zM74 0v9h1v-9zM74 10v1h1v-1zM74 12v1h1v-1zM74 14v1h1v-1zM74 16v5h1v-5zM74 22v1h1v-1zM74 25v1h1v-1zM74 27v5h1v-5zM75 6v4h1v-4zM75 11v4h1v-4zM75 16v3h1v-3zM75 20v2h1v-2zM75 24v1h1v-1zM75 26v1h1v-1zM75 29v1h1v-1zM75 31v1h1v-1zM76 0v1h1v-1zM76 2v7h1v-7zM76 10v1h1v-1zM76 12v1h1v-1zM76 14v7h1v-7zM76 22v4h1v-4zM76 27v2h1v-2zM76 30v2h1v-2zM77 0v4h1v-4zM77 9v1h1v-1zM77 11v1h1v-1zM77 16v4h1v-4zM77 21v1h1v-1zM77 23v1h1v-1zM77 25v1h1v-1zM77 27v2h1v-2zM77 30v1h1v-1zM78 0v2h1v-2zM78 4v7h1v-7zM78 12v5h1v-5zM78 18v3h1v-3zM78 22v1h1v-1zM78 25v1h1v-1zM78 27v1h1v-1zM79 0v4h1v-4zM79 11v1h1v-1zM79 14v2h1v-2zM79 17v1h1v-1zM79 21v2h1v-2zM79 25v1h1v-1zM79 27v5h1v-5zM80 2v1h1v-1zM80 4v16h1v-16zM80 25v1h1v-1zM80 27v2h1v-2zM80 31v1h1v-1zM81 0v8h1v-8zM81 11v2h1v-2zM81 14v1h1v-1zM81 16v1h1v-1zM81 20v4h1v-4zM81 25v5h1v-5zM81 31v1h1v-1zM82 8v4h1v-4zM82 13v3h1v-3zM82 17v3h1v-3zM82 21v1h1v-1zM82 24v5h1v-5zM82 30v2h1v-2zM83 0v6h1v-6zM83 7v6h1v-6zM83 14v1h1v-1zM83 16v1h1v-1zM83 18v8h1v-8zM83 29v3h1v-3zM84 12v4h1v-4zM84 20v12h1v-12zM85 0v2h1v-2zM85 3v9h1v-9zM85 16v5h1v-5zM85 23v1h1v-1zM85 26v1h1v-1zM85 29v1h1v-1zM85 31v1h1v-1zM86 4v2h1v-2zM86 7v2h1v-2zM86 12v4h1v-4zM86 22v9h1v-9zM87 0v1h1v-1zM87 7v5h1v-5zM87 14v6h1v-6zM87 21v1h1v-1zM87 23v1h1v-1zM87 26v1h1v-1zM87 28v1h1v-1zM87 30v2h1v-2zM88 1v7h1v-7zM88 9v1h1v-1zM88 11v6h1v-6zM88 21v1h1v-1zM88 24v6h1v-6zM88 31v1h1v-1zM89 2v1h1v-1zM89 8v2h1v-2zM89 11v1h1v-1zM89 17v3h1v-3zM89 22v1h1v-1zM89 28v4h1v-4zM90 0v8h1v-8zM90 9v1h1v-1zM90 11v5h1v-5zM90 18v1h1v-1zM90 20v12h1v-12zM91 4v1h1v-1zM91 6v4h1v-4zM91 11v1h1v-1zM91 15v5h1v-5zM91 25v1h1v-1zM91 28v4h1v-4zM92 2v1h1v-1zM92 4v2h1v-2zM92 7v9h1v-9zM92 18v6h1v-6zM92 27v3h1v-3zM92 31v1h1v-1zM93 0v7h1v-7zM93 8v1h1v-1zM93 10v2h1v-2zM93 16v2h1v-2zM93 19v2h1v-2zM93 23v6h1v-6zM94 0v1h1v-1zM94 4v1h1v-1zM94 6v1h1v-1zM94 8v1h1v-1zM94 10v7h1v-7zM94 20v1h1v-1zM94 22v2h1v-2zM94 29v3h1v-3zM95 0v5h1v-5zM95 6v1h1v-1zM95 8v1h1v-1zM95 10v1h1v-1zM95 16v4h1v-4zM95 21v1h1v-1zM95 23v8h1v-8zM96 4v1h1v-1zM96 6v1h1v-1zM96 8v1h1v-1zM96 10v7h1v-7zM96 18v3h1v-3zM96 22v1h1v-1zM96 24v1h1v-1zM96 28v4h1v-4zM97 5v1h1v-1zM97 7v2h1v-2zM97 10v6h1v-6zM97 17v3h1v-3zM97 21v1h1v-1zM97 23v1h1v-1zM97 25v3h1v-3zM98 0v7h1v-7zM98 9v1h1v-1zM98 11v1h1v-1zM98 16v1h1v-1zM98 18v1h1v-1zM98 20v3h1v-3zM98 24v1h1v-1zM98 26v1h1v-1zM98 28v4h1v-4zM99 2v1h1v-1zM99 5v1h1v-1zM99 7v10h1v-10zM99 18v1h1v-1zM99 21v1h1v-1zM99 24v2h1v-2zM99 27v1h1v-1zM99 31v1h1v-1zM100 0v1h1v-1zM100 3v2h1v-2zM100 6v1h1v-1zM100 8v1h1v-1zM100 16v1h1v-1zM100 20v5h1v-5zM100 26v1h1v-1zM100 28v4h1v-4zM101 3v2h1v-2zM101 6v1h1v-1zM101 8v2h1v-2zM101 11v6h1v-6zM101 18v2h1v-2zM101 25v1h1v-1zM101 27v5h1v-5zM102 5v1h1v-1zM102 7v1h1v-1zM102 12v3h1v-3zM102 16v1h1v-1zM102 20v4h1v-4zM102 25v1h1v-1zM102 27v1h1v-1zM103 0v5h1v-5zM103 6v1h1v-1zM103 8v4h1v-4zM103 13v1h1v-1zM103 15v1h1v-1zM103 17v3h1v-3zM103 23v9h1v-9zM104 0v1h1v-1zM104 2v6h1v-6zM104 9v2h1v-2zM104 12v1h1v-1zM104 14v1h1v-1zM104 16v3h1v-3zM104 20v4h1v-4zM104 25v1h1v-1zM104 30v1h1v-1zM105 0v5h1v-5zM105 6v8h1v-8zM105 15v3h1v-3zM105 19v2h1v-2zM105 22v1h1v-1zM105 25v2h1v-2zM105 28v3h1v-3zM106 0v1h1v-1zM106 3v2h1v-2zM106 6v1h1v-1zM106 8v1h1v-1zM106 12v1h1v-1zM106 14v1h1v-1zM106 18v1h1v-1zM106 20v2h1v-2zM106 23v9h1v-9zM107 0v6h1v-6zM107 7v5h1v-5zM107 13v3h1v-3zM107 17v1h1v-1zM107 19v1h1v-1zM107 22v1h1v-1zM107 24v4h1v-4zM107 29v1h1v-1zM107 31v1h1v-1zM108 1v1h1v-1zM108 3v2h1v-2zM108 6v1h1v-1zM108 9v1h1v-1zM108 12v1h1v-1zM108 15v5h1v-5zM108 24v1h1v-1zM108 27v1h1v-1zM108 29v1h1v-1zM108 31v1h1v-1zM109 0v4h1v-4zM109 5v1h1v-1zM109 7v2h1v-2zM109 10v1h1v-1zM109 13v5h1v-5zM109 19v1h1v-1zM109 24v1h1v-1zM109 26v1h1v-1zM109 29v1h1v-1zM109 31v1h1v-1zM110 0v1h1v-1zM110 4v1h1v-1zM110 6v2h1v-2zM110 10v1h1v-1zM110 13v1h1v-1zM110 15v9h1v-9zM110 25v1h1v-1zM110 27v3h1v-3zM110 31v1h1v-1zM111 0v13h1v-13zM111 14v3h1v-3zM111 19v1h1v-1zM111 24v3h1v-3zM111 30v1h1v-1zM112 0v1h1v-1zM112 3v2h1v-2zM112 6v2h1v-2zM112 12v1h1v-1zM112 15v5h1v-5zM112 21v7h1v-7zM112 29v3h1v-3zM113 0v1h1v-1zM113 2v6h1v-6zM113 9v1h1v-1zM113 11v9h1v-9zM113 24v3h1v-3zM114 1v2h1v-2zM114 6v3h1v-3zM114 10v1h1v-1zM114 21v1h1v-1zM114 23v9h1v-9zM115 1v7h1v-7zM115 9v1h1v-1zM115 11v13h1v-13zM116 1v1h1v-1zM116 3v8h1v-8zM116 16v1h1v-1zM116 21v1h1v-1zM116 23v9h1v-9zM117 1v1h1v-1zM117 3v1h1v-1zM117 5v1h1v-1zM117 9v4h1v-4zM117 14v7h1v-7zM117 22v1h1v-1zM117 24v1h1v-1zM117 26v1h1v-1zM117 29v1h1v-1zM118 0v1h1v-1zM118 2v1h1v-1zM118 4v8h1v-8zM118 15v1h1v-1zM118 17v3h1v-3zM118 21v1h1v-1zM118 25v1h1v-1zM118 27v1h1v-1zM118 29v3h1v-3zM119 1v1h1v-1zM119 3v2h1v-2zM119 6v1h1v-1zM119 8v2h1v-2zM119 12v1h1v-1zM119 14v1h1v-1zM119 16v1h1v-1zM119 18v2h1v-2zM119 21v1h1v-1zM119 23v2h1v-2zM119 26v1h1v-1zM119 31v1h1v-1zM120 0v1h1v-1zM120 2v1h1v-1zM120 4v8h1v-8zM120 13v1h1v-1zM120 15v1h1v-1zM120 17v1h1v-1zM120 19v5h1v-5zM120 25v1h1v-1zM120 27v1h1v-1zM120 29v3h1v-3zM121 1v1h1v-1zM121 3v1h1v-1zM121 5v1h1v-1zM121 14v1h1v-1zM121 18v1h1v-1zM121 21v1h1v-1zM121 23v2h1v-2zM121 26v1h1v-1zM121 28v2h1v-2zM121 31v1h1v-1zM122 0v4h1v-4zM122 5v1h1v-1zM122 7v1h1v-1zM122 9v6h1v-6zM122 17v1h1v-1zM122 19v2h1v-2zM122 22v1h1v-1zM122 25v3h1v-3zM122 29v3h1v-3zM123 1v2h1v-2zM123 5v7h1v-7zM123 13v1h1v-1zM123 15v1h1v-1zM123 18v1h1v-1zM123 21v1h1v-1zM123 23v2h1v-2zM123 26v1h1v-1zM123 28v2h1v-2zM123 31v1h1v-1zM124 0v4h1v-4zM124 5v1h1v-1zM124 7v2h1v-2zM124 11v3h1v-3zM124 15v5h1v-5zM124 23v1h1v-1zM124 25v1h1v-1zM124 27v2h1v-2zM124 30v1h1v-1zM125 0v3h1v-3zM125 5v1h1v-1zM125 7v9h1v-9zM125 18v1h1v-1zM125 20v5h1v-5zM125 28v2h1v-2zM125 31v1h1v-1zM126 1v2h1v-2zM126 4v1h1v-1zM126 6v1h1v-1zM126 8v1h1v-1zM126 15v1h1v-1zM126 17v3h1v-3zM126 21v1h1v-1zM126 25v1h1v-1zM126 27v4h1v-4zM127 3v1h1v-1zM127 5v1h1v-1zM127 7v1h1v-1zM127 9v5h1v-5zM127 20v5h1v-5zM127 26v1h1v-1zM127 28v1h1v-1zM127 30v1h1v-1zM128 0v5h1v-5zM128 6v11h1v-11zM128 18v3h1v-3zM128 22v3h1v-3zM128 26v1h1v-1zM128 28v1h1v-1zM128 30v1h1v-1zM129 5v3h1v-3zM129 14v1h1v-1zM129 16v9h1v-9zM129 26v1h1v-1zM129 28v3h1v-3zM130 0v5h1v-5zM130 6v11h1v-11zM130 24v1h1v-1zM130 26v1h1v-1zM130 28v1h1v-1zM130 30v1h1v-1zM131 2v2h1v-2zM131 9v1h1v-1zM131 12v2h1v-2zM131 16v2h1v-2zM131 19v1h1v-1zM131 21v3h1v-3zM131 26v1h1v-1zM131 29v1h1v-1zM132 0v3h1v-3zM132 4v12h1v-12zM132 17v3h1v-3zM132 21v1h1v-1zM132 24v8h1v-8zM133 2v1h1v-1zM133 4v2h1v-2zM133 8v1h1v-1zM133 10v2h1v-2zM133 16v1h1v-1zM133 18v1h1v-1zM133 20v4h1v-4zM133 25v1h1v-1zM133 30v1h1v-1zM134 1v15h1v-15zM134 17v1h1v-1zM134 19v9h1v-9zM134 29v3h1v-3zM135 8v4h1v-4zM135 14v1h1v-1zM135 16v3h1v-3zM135 20v1h1v-1zM135 26v1h1v-1zM135 30v1h1v-1zM136 0v1h1v-1zM136 2v2h1v-2zM136 5v4h1v-4zM136 10v1h1v-1zM136 12v3h1v-3zM136 17v15h1v-15zM137 0v1h1v-1zM137 2v4h1v-4zM137 7v5h1v-5zM137 16v1h1v-1zM137 18v1h1v-1zM137 20v1h1v-1zM137 22v1h1v-1zM137 25v1h1v-1zM137 27v1h1v-1zM138 1v3h1v-3zM138 5v1h1v-1zM138 7v1h1v-1zM138 10v1h1v-1zM138 12v9h1v-9zM138 22v3h1v-3zM138 26v1h1v-1zM138 28v3h1v-3zM139 1v1h1v-1zM139 3v1h1v-1zM139 5v4h1v-4zM139 10v1h1v-1zM139 13v2h1v-2zM139 18v1h1v-1zM139 20v4h1v-4zM139 25v1h1v-1zM139 27v1h1v-1zM139 29v2h1v-2zM140 0v2h1v-2zM140 3v1h1v-1zM140 5v4h1v-4zM140 11v5h1v-5zM140 17v5h1v-5zM140 24v1h1v-1zM140 26v5h1v-5zM141 1v1h1v-1zM141 3v4h1v-4zM141 9v3h1v-3zM141 13v2h1v-2zM141 20v6h1v-6zM141 27v2h1v-2zM141 30v1h1v-1zM142 0v1h1v-1zM142 3v1h1v-1zM142 5v1h1v-1zM142 7v6h1v-6zM142 14v7h1v-7zM142 23v1h1v-1zM142 29v1h1v-1zM142 31v1h1v-1zM143 1v4h1v-4zM143 6v3h1v-3zM143 10v1h1v-1zM143 12v3h1v-3zM143 18v1h1v-1zM143 20v2h1v-2zM143 23v8h1v-8zM144 0v1h1v-1zM144 3v1h1v-1zM144 5v6h1v-6zM144 13v2h1v-2zM144 16v4h1v-4zM144 21v3h1v-3zM144 31v1h1v-1zM145 0v2h1v-2zM145 4v3h1v-3zM145 8v3h1v-3zM145 12v1h1v-1zM145 14v1h1v-1zM145 19v1h1v-1zM145 23v1h1v-1zM145 25v4h1v-4zM145 30v1h1v-1zM146 0v4h1v-4zM146 8v1h1v-1zM146 10v4h1v-4zM146 16v8h1v-8zM146 29v2h1v-2zM147 1v1h1v-1zM147 3v6h1v-6zM147 10v2h1v-2zM147 14v1h1v-1zM147 16v2h1v-2zM147 24v4h1v-4zM147 31v1h1v-1zM148 0v4h1v-4zM148 12v14h1v-14zM148 28v2h1v-2zM148 31v1h1v-1zM149 2v1h1v-1zM149 4v6h1v-6zM149 11v1h1v-1zM149 17v1h1v-1zM149 20v1h1v-1zM149 22v1h1v-1zM149 24v4h1v-4zM149 30v2h1v-2zM150 0v4h1v-4zM150 6v1h1v-1zM150 8v1h1v-1zM150 13v8h1v-8zM150 22v1h1v-1zM150 28v4h1v-4zM151 4v1h1v-1zM151 6v1h1v-1zM151 8v3h1v-3zM151 12v1h1v-1zM151 16v2h1v-2zM151 20v1h1v-1zM151 22v1h1v-1zM151 24v8h1v-8zM152 1v1h1v-1zM152 4v2h1v-2zM152 7v1h1v-1zM152 11v1h1v-1zM152 13v1h1v-1zM152 15v6h1v-6zM152 22v1h1v-1zM152 25v1h1v-1zM152 27v1h1v-1zM152 30v1h1v-1zM153 0v9h1v-9zM153 10v1h1v-1zM153 12v1h1v-1zM153 14v2h1v-2zM153 17v2h1v-2zM153 20v3h1v-3zM153 24v1h1v-1zM153 26v1h1v-1zM153 28v4h1v-4zM154 1v2h1v-2zM154 5v5h1v-5zM154 11v1h1v-1zM154 13v1h1v-1zM154 15v2h1v-2zM154 18v1h1v-1zM154 21v3h1v-3zM154 25v1h1v-1zM154 27v2h1v-2zM154 30v1h1v-1zM155 0v7h1v-7zM155 8v1h1v-1zM155 10v1h1v-1zM155 12v1h1v-1zM155 14v1h1v-1zM155 17v2h1v-2zM155 20v1h1v-1zM155 22v1h1v-1zM155 24v1h1v-1zM155 26v6h1v-6zM156 0v1h1v-1zM156 2v1h1v-1zM156 8v4h1v-4zM156 13v1h1v-1zM156 15v5h1v-5zM156 21v1h1v-1zM156 23v1h1v-1zM156 25v1h1v-1zM156 27v1h1v-1zM156 29v1h1v-1zM157 0v3h1v-3zM157 4v2h1v-2zM157 7v4h1v-4zM157 13v1h1v-1zM157 15v6h1v-6zM157 22v2h1v-2zM157 28v4h1v-4zM158 3v1h1v-1zM158 8v2h1v-2zM158 11v1h1v-1zM158 13v1h1v-1zM158 15v2h1v-2zM158 18v1h1v-1zM158 21v1h1v-1zM158 23v5h1v-5zM159 0v5h1v-5zM159 6v2h1v-2zM159 9v1h1v-1zM159 13v1h1v-1zM159 15v3h1v-3zM159 19v1h1v-1zM159 21v1h1v-1zM159 23v1h1v-1zM159 28v4h1v-4z" fill="#000" shape-rendering="crispEdges"/>
</pattern>
<pattern id="dd" width="160" height="32" patternUnits="userSpaceOnUse">
<rect width="160" height="32" fill="#fff"/>
<path d="M0 0v4h1v-4zM0 5v9h1v-9zM0 15v12h1v-12zM0 29v3h1v-3zM1 0v17h1v-17zM1 18v6h1v-6zM1 25v6h1v-6zM2 0v1h1v-1zM2 2v1h1v-1zM2 4v5h1v-5zM2 10v15h1v-15zM2 26v3h1v-3zM2 30v2h1v-2zM3 0v3h1v-3zM3 4v15h1v-15zM3 20v2h1v-2zM3 23v9h1v-9zM4 0v9h1v-9zM4 10v6h1v-6zM4 17v2h1v-2zM4 20v4h1v-4zM4 27v5h1v-5zM5 1v5h1v-5zM5 7v5h1v-5zM5 13v19h1v-19zM6 0v1h1v-1zM6 2v1h1v-1zM6 4v3h1v-3zM6 8v5h1v-5zM6 14v9h1v-9zM6 24v6h1v-6zM6 31v1h1v-1zM7 0v15h1v-15zM7 16v8h1v-8zM7 25v7h1v-7zM8 0v4h1v-4zM8 5v5h1v-5zM8 11v3h1v-3zM8 15v14h1v-14zM9 0v11h1v-11zM9 12v7h1v-7zM9 20v7h1v-7zM9 28v4h1v-4zM10 0v1h1v-1zM10 2v5h1v-5zM10 8v5h1v-5zM10 14v3h1v-3zM10 18v3h1v-3zM10 22v1h1v-1zM10 24v5h1v-5zM10 30v2h1v-2zM11 0v2h1v-2zM11 3v18h1v-18zM11 22v1h1v-1zM11 24v8h1v-8zM12 0v19h1v-19zM12 20v1h1v-1zM12 22v9h1v-9zM13 1v2h1v-2zM13 4v3h1v-3zM13 8v11h1v-11zM13 20v8h1v-8zM13 29v3h1v-3zM14 0v2h1v-2zM14 3v10h1v-10zM14 14v5h1v-5zM14 20v12h1v-12zM15 0v5h1v-5zM15 6v26h1v-26zM16 0v1h1v-1zM16 2v6h1v-6zM16 10v4h1v-4zM16 15v1h1v-1zM16 17v2h1v-2zM16 20v2h1v-2zM16 23v5h1v-5zM16 29v3h1v-3zM17 0v4h1v-4zM17 5v1h1v-1zM17 7v17h1v-17zM17 27v1h1v-1zM17 29v3h1v-3zM18 0v8h1v-8zM18 9v4h1v-4zM18 14v7h1v-7zM18 22v10h1v-10zM19 0v20h1v-20zM19 21v11h1v-11zM20 1v1h1v-1zM20 3v29h1v-29zM21 0v1h1v-1zM21 2v1h1v-1zM21 4v24h1v-24zM21 29v3h1v-3zM22 0v1h1v-1zM22 2v11h1v-11zM22 14v8h1v-8zM22 24v6h1v-6zM22 31v1h1v-1zM23 0v5h1v-5zM23 6v7h1v-7zM23 14v4h1v-4zM23 19v13h1v-13zM24 0v4h1v-4zM24 5v6h1v-6zM24 12v7h1v-7zM24 20v6h1v-6zM24 28v1h1v-1zM24 30v2h1v-2zM25 0v14h1v-14zM25 15v11h1v-11zM25 27v5h1v-5zM26 0v8h1v-8zM26 10v8h1v-8zM26 19v8h1v-8zM26 28v2h1v-2zM26 31v1h1v-1zM27 1v3h1v-3zM27 5v2h1v-2zM27 9v1h1v-1zM27 11v15h1v-15zM27 27v5h1v-5zM28 2v10h1v-10zM28 14v1h1v-1zM28 16v2h1v-2zM28 20v4h1v-4zM28 26v6h1v-6zM29 1v3h1v-3zM29 6v1h1v-1zM29 9v23h1v-23zM30 0v5h1v-5zM30 6v10h1v-10zM30 17v2h1v-2zM30 20v4h1v-4zM30 25v6h1v-6zM31 0v10h1v-10zM31 11v1h1v-1zM31 13v8h1v-8zM31 23v9h1v-9zM32 0v1h1v-1zM32 2v1h1v-1zM32 4v3h1v-3zM32 8v11h1v-11zM32 20v12h1v-12zM33 0v18h1v-18zM33 19v13h1v-13zM34 0v5h1v-5zM34 6v2h1v-2zM34 9v4h1v-4zM34 14v18h1v-18zM35 0v14h1v-14zM35 15v3h1v-3zM35 20v4h1v-4zM35 25v6h1v-6zM36 0v3h1v-3zM36 4v1h1v-1zM36 6v4h1v-4zM36 11v15h1v-15zM36 27v3h1v-3zM36 31v1h1v-1zM37 0v2h1v-2zM37 3v2h1v-2zM37 6v21h1v-21zM37 28v1h1v-1zM37 30v1h1v-1zM38 0v10h1v-10zM38 11v9h1v-9zM38 21v3h1v-3zM38 25v7h1v-7zM39 0v13h1v-13zM39 14v2h1v-2zM39 17v13h1v-13zM40 0v1h1v-1zM40 2v13h1v-13zM40 16v9h1v-9zM40 26v2h1v-2zM40 29v3h1v-3zM41 1v1h1v-1zM41 3v12h1v-12zM41 16v2h1v-2zM41 20v1h1v-1zM41 22v4h1v-4zM41 27v1h1v-1zM41 29v1h1v-1zM41 31v1h1v-1zM42 0v3h1v-3zM42 4v16h1v-16zM42 21v1h1v-1zM42 23v2h1v-2zM42 26v3h1v-3zM42 30v2h1v-2zM43 0v3h1v-3zM43 4v12h1v-12zM43 17v6h1v-6zM43 24v8h1v-8zM44 1v2h1v-2zM44 4v5h1v-5zM44 10v16h1v-16zM44 27v4h1v-4zM45 0v4h1v-4zM45 5v27h1v-27zM46 0v4h1v-4zM46 7v8h1v-8zM46 16v3h1v-3zM46 20v4h1v-4zM46 26v3h1v-3zM46 30v2h1v-2zM47 0v6h1v-6zM47 7v11h1v-11zM47 19v4h1v-4zM47 24v8h1v-8zM48 0v8h1v-8zM48 9v1h1v-1zM48 11v10h1v-10zM48 22v4h1v-4zM48 27v1h1v-1zM48 29v2h1v-2zM49 0v9h1v-9zM49 10v22h1v-22zM50 1v2h1v-2zM50 5v7h1v-7zM50 13v6h1v-6zM50 20v1h1v-1zM50 24v3h1v-3zM50 29v3h1v-3zM51 0v11h1v-11zM51 12v1h1v-1zM51 14v1h1v-1zM51 16v16h1v-16zM52 2v10h1v-10zM52 13v1h1v-1zM52 15v1h1v-1zM52 17v4h1v-4zM52 22v1h1v-1zM52 24v1h1v-1zM52 26v6h1v-6zM53 0v11h1v-11zM53 13v2h1v-2zM53 16v4h1v-4zM53 21v3h1v-3zM53 25v7h1v-7zM54 0v6h1v-6zM54 7v1h1v-1zM54 9v1h1v-1zM54 11v21h1v-21zM55 0v9h1v-9zM55 10v5h1v-5zM55 16v1h1v-1zM55 18v2h1v-2zM55 21v5h1v-5zM55 28v4h1v-4zM56 0v2h1v-2zM56 3v3h1v-3zM56 7v1h1v-1zM56 9v1h1v-1zM56 11v17h1v-17zM56 29v3h1v-3zM57 0v4h1v-4zM57 5v16h1v-16zM57 22v1h1v-1zM57 25v3h1v-3zM58 0v9h1v-9zM58 10v22h1v-22zM59 0v5h1v-5zM59 6v6h1v-6zM59 13v5h1v-5zM59 20v6h1v-6zM59 27v5h1v-5zM60 0v2h1v-2zM60 4v2h1v-2zM60 7v1h1v-1zM60 9v12h1v-12zM60 23v9h1v-9zM61 0v8h1v-8zM61 9v1h1v-1zM61 11v21h1v-21zM62 1v8h1v-8zM62 10v10h1v-10zM62 22v9h1v-9zM63 0v7h1v-7zM63 8v24h1v-24zM64 1v1h1v-1zM64 3v3h1v-3zM64 8v5h1v-5zM64 14v2h1v-2zM64 17v15h1v-15zM65 0v5h1v-5zM65 6v4h1v-4zM65 11v6h1v-6zM65 18v4h1v-4zM65 26v2h1v-2zM65 29v3h1v-3zM66 0v3h1v-3zM66 5v17h1v-17zM66 24v2h1v-2zM66 27v5h1v-5zM67 0v5h1v-5zM67 6v20h1v-20zM67 27v5h1v-5zM68 1v1h1v-1zM68 3v2h1v-2zM68 6v5h1v-5zM68 12v2h1v-2zM68 15v2h1v-2zM68 18v3h1v-3zM68 22v8h1v-8zM68 31v1h1v-1zM69 0v5h1v-5zM69 6v4h1v-4zM69 11v1h1v-1zM69 14v2h1v-2zM69 17v1h1v-1zM69 19v5h1v-5zM69 25v1h1v-1zM69 27v3h1v-3zM69 31v1h1v-1zM70 0v2h1v-2zM70 4v4h1v-4zM70 10v14h1v-14zM70 25v7h1v-7zM71 0v4h1v-4zM71 6v18h1v-18zM71 25v1h1v-1zM71 27v3h1v-3zM71 31v1h1v-1zM72 0v6h1v-6zM72 8v7h1v-7zM72 16v16h1v-16zM73 0v3h1v-3zM73 4v7h1v-7zM73 12v9h1v-9zM73 22v2h1v-2zM73 25v7h1v-7zM74 0v4h1v-4zM74 5v10h1v-10zM74 16v2h1v-2zM74 19v2h1v-2zM74 22v2h1v-2zM74 25v2h1v-2zM74 28v2h1v-2zM74 31v1h1v-1zM75 0v11h1v-11zM75 12v2h1v-2zM75 15v1h1v-1zM75 17v15h1v-15zM76 0v3h1v-3zM76 4v9h1v-9zM76 14v5h1v-5zM76 20v10h1v-10zM76 31v1h1v-1zM77 0v12h1v-12zM77 13v3h1v-3zM77 17v2h1v-2zM77 20v1h1v-1zM77 22v2h1v-2zM77 25v3h1v-3zM77 29v3h1v-3zM78 0v1h1v-1zM78 2v1h1v-1zM78 5v16h1v-16zM78 22v2h1v-2zM78 25v7h1v-7zM79 0v11h1v-11zM79 12v1h1v-1zM79 14v1h1v-1zM79 16v6h1v-6zM79 23v9h1v-9zM80 0v19h1v-19zM80 20v12h1v-12zM81 0v7h1v-7zM81 8v1h1v-1zM81 10v1h1v-1zM81 12v1h1v-1zM81 14v11h1v-11zM81 26v6h1v-6zM82 0v22h1v-22zM82 24v5h1v-5zM83 0v3h1v-3zM83 4v4h1v-4zM83 9v1h1v-1zM83 11v2h1v-2zM83 14v6h1v-6zM83 21v4h1v-4zM83 26v6h1v-6zM84 0v23h1v-23zM84 24v6h1v-6zM84 31v1h1v-1zM85 0v1h1v-1zM85 2v1h1v-1zM85 4v1h1v-1zM85 6v2h1v-2zM85 9v2h1v-2zM85 12v1h1v-1zM85 14v10h1v-10zM85 25v3h1v-3zM85 29v2h1v-2zM86 0v11h1v-11zM86 12v1h1v-1zM86 14v5h1v-5zM86 20v1h1v-1zM86 24v8h1v-8zM87 0v11h1v-11zM87 12v2h1v-2zM87 15v17h1v-17zM88 0v1h1v-1zM88 2v3h1v-3zM88 6v15h1v-15zM88 22v6h1v-6zM88 29v3h1v-3zM89 0v9h1v-9zM89 10v14h1v-14zM89 25v2h1v-2zM89 28v4h1v-4zM90 0v3h1v-3zM90 4v8h1v-8zM90 13v1h1v-1zM90 15v3h1v-3zM90 19v2h1v-2zM90 22v1h1v-1zM90 24v4h1v-4zM90 29v3h1v-3zM91 0v4h1v-4zM91 6v16h1v-16zM91 23v9h1v-9zM92 0v1h1v-1zM92 2v10h1v-10zM92 13v2h1v-2zM92 16v2h1v-2zM92 20v9h1v-9zM92 30v2h1v-2zM93 0v7h1v-7zM93 8v1h1v-1zM93 10v17h1v-17zM93 28v4h1v-4zM94 0v14h1v-14zM94 15v5h1v-5zM94 21v11h1v-11zM95 0v3h1v-3zM95 4v5h1v-5zM95 11v5h1v-5zM95 17v4h1v-4zM95 22v10h1v-10zM96 0v3h1v-3zM96 5v1h1v-1zM96 7v9h1v-9zM96 17v3h1v-3zM96 21v9h1v-9zM96 31v1h1v-1zM97 0v1h1v-1zM97 2v8h1v-8zM97 11v2h1v-2zM97 14v18h1v-18zM98 0v9h1v-9zM98 10v3h1v-3zM98 16v10h1v-10zM98 27v2h1v-2zM98 30v1h1v-1zM99 0v8h1v-8zM99 9v17h1v-17zM99 27v5h1v-5zM100 1v13h1v-13zM100 17v8h1v-8zM100 26v2h1v-2zM100 29v3h1v-3zM101 0v6h1v-6zM101 7v3h1v-3zM101 13v5h1v-5zM101 19v1h1v-1zM101 21v1h1v-1zM101 23v9h1v-9zM102 0v13h1v-13zM102 14v6h1v-6zM102 21v7h1v-7zM102 29v1h1v-1zM102 31v1h1v-1zM103 0v1h1v-1zM103 2v4h1v-4zM103 7v1h1v-1zM103 9v13h1v-13zM103 23v6h1v-6zM103 30v2h1v-2zM104 0v6h1v-6zM104 7v16h1v-16zM104 24v5h1v-5zM104 30v1h1v-1zM105 0v2h1v-2zM105 4v2h1v-2zM105 7v4h1v-4zM105 12v7h1v-7zM105 20v1h1v-1zM105 22v1h1v-1zM105 24v4h1v-4zM105 29v3h1v-3zM106 0v1h1v-1zM106 2v17h1v-17zM106 22v6h1v-6zM106 29v3h1v-3zM107 0v4h1v-4zM107 5v1h1v-1zM107 7v3h1v-3zM107 11v10h1v-10zM107 22v3h1v-3zM107 26v3h1v-3zM107 31v1h1v-1zM108 1v1h1v-1zM108 5v2h1v-2zM108 10v2h1v-2zM108 13v4h1v-4zM108 20v4h1v-4zM108 25v2h1v-2zM108 28v2h1v-2zM108 31v1h1v-1zM109 0v20h1v-20zM109 21v10h1v-10zM110 1v3h1v-3zM110 5v7h1v-7zM110 13v2h1v-2zM110 16v2h1v-2zM110 19v9h1v-9zM110 29v3h1v-3zM111 0v5h1v-5zM111 6v7h1v-7zM111 14v6h1v-6zM111 21v11h1v-11zM112 0v32h1v-32zM113 0v4h1v-4zM113 6v6h1v-6zM113 13v12h1v-12zM113 30v2h1v-2zM114 0v3h1v-3zM114 4v16h1v-16zM114 21v1h1v-1zM114 24v8h1v-8zM115 0v10h1v-10zM115 11v3h1v-3zM115 15v10h1v-10zM115 26v1h1v-1zM115 28v2h1v-2zM115 31v1h1v-1zM116 1v1h1v-1zM116 3v6h1v-6zM116 10v13h1v-13zM116 24v8h1v-8zM117 0v4h1v-4zM117 5v13h1v-13zM117 19v2h1v-2zM117 22v10h1v-10zM118 1v2h1v-2zM118 4v8h1v-8zM118 13v8h1v-8zM118 22v1h1v-1zM118 24v5h1v-5zM118 30v2h1v-2zM119 0v10h1v-10zM119 11v7h1v-7zM119 19v9h1v-9zM119 30v2h1v-2zM120 0v3h1v-3zM120 4v2h1v-2zM120 7v19h1v-19zM120 27v4h1v-4zM121 0v4h1v-4zM121 5v4h1v-4zM121 10v1h1v-1zM121 12v7h1v-7zM121 20v3h1v-3zM121 25v7h1v-7zM122 1v4h1v-4zM122 6v3h1v-3zM122 10v15h1v-15zM122 26v6h1v-6zM123 0v12h1v-12zM123 13v1h1v-1zM123 15v17h1v-17zM124 1v4h1v-4zM124 6v3h1v-3zM124 10v1h1v-1zM124 12v20h1v-20zM125 0v6h1v-6zM125 8v1h1v-1zM125 10v1h1v-1zM125 12v5h1v-5zM125 19v13h1v-13zM126 0v3h1v-3zM126 4v5h1v-5zM126 10v7h1v-7zM126 18v12h1v-12zM126 31v1h1v-1zM127 0v15h1v-15zM127 17v1h1v-1zM127 19v6h1v-6zM127 26v6h1v-6zM128 1v1h1v-1zM128 3v1h1v-1zM128 5v1h1v-1zM128 7v10h1v-10zM128 18v7h1v-7zM128 26v6h1v-6zM129 0v16h1v-16zM129 17v5h1v-5zM129 23v6h1v-6zM129 30v2h1v-2zM130 1v6h1v-6zM130 8v10h1v-10zM130 19v4h1v-4zM130 24v7h1v-7zM131 0v3h1v-3zM131 4v15h1v-15zM131 21v3h1v-3zM131 25v1h1v-1zM131 27v5h1v-5zM132 0v4h1v-4zM132 5v1h1v-1zM132 7v2h1v-2zM132 10v15h1v-15zM132 26v2h1v-2zM132 29v3h1v-3zM133 0v5h1v-5zM133 7v10h1v-10zM133 18v2h1v-2zM133 21v3h1v-3zM133 25v1h1v-1zM133 27v3h1v-3zM133 31v1h1v-1zM134 1v6h1v-6zM134 8v3h1v-3zM134 12v1h1v-1zM134 15v10h1v-10zM134 26v2h1v-2zM134 29v3h1v-3zM135 1v2h1v-2zM135 5v8h1v-8zM135 14v2h1v-2zM135 17v2h1v-2zM135 20v6h1v-6zM135 27v1h1v-1zM135 29v1h1v-1zM135 31v1h1v-1zM136 1v10h1v-10zM136 12v20h1v-20zM137 0v7h1v-7zM137 8v5h1v-5zM137 14v2h1v-2zM137 17v3h1v-3zM137 21v4h1v-4zM137 26v6h1v-6zM138 0v13h1v-13zM138 14v8h1v-8zM138 23v9h1v-9zM139 0v8h1v-8zM139 9v8h1v-8zM139 18v2h1v-2zM139 21v1h1v-1zM139 23v7h1v-7zM139 31v1h1v-1zM140 0v2h1v-2zM140 4v6h1v-6zM140 12v8h1v-8zM140 21v11h1v-11zM141 0v6h1v-6zM141 7v1h1v-1zM141 9v12h1v-12zM141 22v10h1v-10zM142 0v1h1v-1zM142 2v4h1v-4zM142 8v7h1v-7zM142 16v8h1v-8zM142 25v3h1v-3zM142 29v3h1v-3zM143 1v10h1v-10zM143 12v1h1v-1zM143 14v1h1v-1zM143 16v5h1v-5zM143 23v9h1v-9zM144 0v4h1v-4zM144 6v6h1v-6zM144 13v11h1v-11zM144 25v3h1v-3zM144 29v2h1v-2zM145 0v1h1v-1zM145 2v6h1v-6zM145 9v3h1v-3zM145 14v1h1v-1zM145 16v16h1v-16zM146 1v7h1v-7zM146 9v5h1v-5zM146 15v9h1v-9zM146 25v7h1v-7zM147 0v7h1v-7zM147 8v6h1v-6zM147 16v10h1v-10zM147 27v1h1v-1zM147 29v3h1v-3zM148 0v1h1v-1zM148 2v15h1v-15zM148 18v5h1v-5zM148 24v7h1v-7zM149 0v13h1v-13zM149 14v18h1v-18zM150 0v1h1v-1zM150 3v6h1v-6zM150 10v3h1v-3zM150 14v1h1v-1zM150 17v12h1v-12zM150 30v1h1v-1zM151 0v17h1v-17zM151 18v7h1v-7zM151 26v6h1v-6zM152 1v2h1v-2zM152 4v3h1v-3zM152 8v8h1v-8zM152 17v15h1v-15zM153 0v5h1v-5zM153 6v1h1v-1zM153 8v3h1v-3zM153 12v1h1v-1zM153 14v13h1v-13zM153 29v1h1v-1zM153 31v1h1v-1zM154 1v2h1v-2zM154 4v5h1v-5zM154 10v3h1v-3zM154 14v3h1v-3zM154 18v14h1v-14zM155 0v11h1v-11zM155 12v18h1v-18zM155 31v1h1v-1zM156 0v3h1v-3zM156 5v2h1v-2zM156 9v2h1v-2zM156 12v6h1v-6zM156 19v3h1v-3zM156 23v5h1v-5zM156 29v3h1v-3zM157 0v5h1v-5zM157 6v4h1v-4zM157 12v14h1v-14zM157 27v5h1v-5zM158 0v18h1v-18zM158 19v10h1v-10zM158 30v1h1v-1zM159 0v7h1v-7zM159 8v2h1v-2zM159 11v6h1v-6zM159 18v12h1v-12zM159 31v1h1v-1z" fill="#000" shape-rendering="crispEdges"/>
</pattern>
<filter id="bw" x="0" y="0" width="100%" height="100%" color-interpolation-filters="sRGB">
<feComponentTransfer>
<feFuncR type="discrete" tableValues="0 0 1 1"/>
<feFuncG type="discrete" tableValues="0 0 1 1"/>
<feFuncB type="discrete" tableValues="0 0 1 1"/>
</feComponentTransfer>
</filter>
</defs>
<rect width="1024" height="1771" fill="#fff"/>
<g filter="url(#bw)">
<rect width="1024" height="1771" fill="#fff"/>
<!-- header -->
<text x="277.5" y="76.0" font-family='"Liberation Sans", sans-serif' font-size="30.2" transform="rotate(-0.42 277.5 76.0)" stroke="#000" stroke-width="0.3" stroke-linejoin="round">DE 196 50 177 B4</text>
<text x="558.0" y="73.4" font-family='"Liberation Sans", sans-serif' font-size="30.2" transform="rotate(-0.42 558.0 73.4)" stroke="#000" stroke-width="0.3" stroke-linejoin="round">2009.09.10</text>
<text x="358.5" y="121.6" font-family='"Liberation Sans", sans-serif' font-size="21.7" font-weight="bold" transform="rotate(-0.42 358.5 121.6)" stroke="#000" stroke-width="0.2" stroke-linejoin="round">Anhängende Zeichnungen</text>
<!-- page number -->
<text x="495.7" y="1744.8" font-family='"Liberation Sans", sans-serif' font-size="22.3" stroke="#000" stroke-width="0.3" stroke-linejoin="round">6/7</text>
<!-- Fig. 1a: detector / mask bars -->
<rect x="157.0" y="261.2" width="13" height="14" fill="#000"/>
<rect x="206.2" y="260.6" width="13" height="14" fill="#000"/>
<rect x="261.2" y="259.9" width="13" height="14" fill="#000"/>
<rect x="308.0" y="259.3" width="13" height="14" fill="#000"/>
<rect x="363.8" y="258.6" width="13" height="14" fill="#000"/>
<rect x="416.2" y="258.0" width="13" height="14" fill="#000"/>
<rect x="468.0" y="257.3" width="13" height="14" fill="#000"/>
<rect x="520.0" y="256.7" width="13" height="14" fill="#000"/>
<rect x="573.0" y="256.0" width="13" height="14" fill="#000"/>
<polygon points="91.8,233.3 662.3,226.1 662.3,255.1 91.8,261.7" fill="url(#dz)" stroke="#000" stroke-width="2.6" stroke-linejoin="miter"/>
<polygon points="126.6,274.6 623.4,268.4 623.4,281.9 126.6,287.9" fill="url(#dz)" stroke="#000" stroke-width="2.2" stroke-linejoin="miter"/>
<!-- Fig. 1a: plate -->
<line x1="308.0" y1="747.1" x2="887.1" y2="741.1" stroke="#000" stroke-width="1.5" />
<line x1="250.2" y1="753.9" x2="829.4" y2="747.9" stroke="#000" stroke-width="1.5" />
<line x1="195.1" y1="760.4" x2="774.2" y2="754.4" stroke="#000" stroke-width="1.5" />
<line x1="147.9" y1="765.9" x2="727.0" y2="759.9" stroke="#000" stroke-width="1.5" />
<line x1="98.0" y1="771.8" x2="677.1" y2="765.8" stroke="#000" stroke-width="1.5" />
<line x1="46.5" y1="779.0" x2="308.0" y2="747.1" stroke="#000" stroke-width="1.5" />
<polygon points="623.6,773.0 887.1,741.1 887.1,760.4 623.6,800.7" fill="#fff" stroke="#000" stroke-width="2.0" stroke-linejoin="miter"/>
<line x1="887.1" y1="738.1" x2="887.1" y2="760.4" stroke="#000" stroke-width="2.0" />
<polygon points="46.9,779.4 623.2,773.4 623.2,800.3 46.9,806.1" fill="url(#dz)" stroke="#000" stroke-width="2.8" stroke-linejoin="miter"/>
<!-- Fig. 1a: incident beam -->
<line x1="715.0" y1="279.5" x2="354.5" y2="759.5" stroke="#000" stroke-width="2.35" />
<line x1="730.0" y1="279.5" x2="369.5" y2="759.5" stroke="#000" stroke-width="2.35" />
<line x1="747.0" y1="279.5" x2="386.5" y2="759.5" stroke="#000" stroke-width="2.35" />
<line x1="765.0" y1="279.5" x2="404.5" y2="759.5" stroke="#000" stroke-width="2.35" />
<line x1="783.0" y1="279.5" x2="422.5" y2="759.5" stroke="#000" stroke-width="2.35" />
<line x1="801.2" y1="279.5" x2="440.8" y2="759.5" stroke="#000" stroke-width="2.35" />
<line x1="822.5" y1="279.5" x2="462.0" y2="759.5" stroke="#000" stroke-width="2.35" />
<line x1="840.0" y1="279.5" x2="479.5" y2="759.5" stroke="#000" stroke-width="2.35" />
<line x1="856.2" y1="279.5" x2="495.8" y2="759.5" stroke="#000" stroke-width="2.35" />
<line x1="871.8" y1="279.5" x2="511.2" y2="759.5" stroke="#000" stroke-width="2.35" />
<line x1="887.5" y1="279.5" x2="527.0" y2="759.5" stroke="#000" stroke-width="2.35" />
<!-- Fig. 1a: scattered rays -->
<line x1="167.5" y1="288.5" x2="385.0" y2="756.5" stroke="#000" stroke-width="2.2" />
<line x1="167.5" y1="288.5" x2="405.0" y2="756.5" stroke="#000" stroke-width="2.2" />
<line x1="262.5" y1="287.3" x2="385.0" y2="756.5" stroke="#000" stroke-width="2.2" />
<line x1="262.5" y1="287.3" x2="405.0" y2="756.5" stroke="#000" stroke-width="2.2" />
<line x1="376.0" y1="286.0" x2="385.0" y2="756.5" stroke="#000" stroke-width="2.2" />
<line x1="376.0" y1="286.0" x2="405.0" y2="756.5" stroke="#000" stroke-width="2.2" />
<line x1="486.0" y1="284.5" x2="385.0" y2="756.5" stroke="#000" stroke-width="2.2" />
<line x1="486.0" y1="284.5" x2="405.0" y2="756.5" stroke="#000" stroke-width="2.2" />
<ellipse cx="395.7" cy="758" rx="15.3" ry="5" fill="none" stroke="#000" stroke-width="2.4"/>
<rect x="387" y="764" width="9.3" height="10" fill="#000"/>
<!-- Fig. 1a: lens (dashed ellipse) -->
<line x1="199.8" y1="317.3" x2="229.1" y2="314.4" stroke="#000" stroke-width="2.7" stroke-linecap="round"/>
<line x1="257.0" y1="312.5" x2="286.7" y2="311.1" stroke="#000" stroke-width="2.7" stroke-linecap="round"/>
<line x1="314.0" y1="310.1" x2="343.8" y2="310.1" stroke="#000" stroke-width="2.7" stroke-linecap="round"/>
<line x1="371.2" y1="310.1" x2="400.5" y2="310.1" stroke="#000" stroke-width="2.7" stroke-linecap="round"/>
<line x1="427.9" y1="311.1" x2="457.8" y2="313.0" stroke="#000" stroke-width="2.7" stroke-linecap="round"/>
<line x1="196.9" y1="336.9" x2="227.1" y2="339.2" stroke="#000" stroke-width="2.7" stroke-linecap="round"/>
<line x1="255.0" y1="341.2" x2="284.8" y2="342.1" stroke="#000" stroke-width="2.7" stroke-linecap="round"/>
<line x1="312.0" y1="341.8" x2="342.0" y2="341.8" stroke="#000" stroke-width="2.7" stroke-linecap="round"/>
<line x1="369.3" y1="341.2" x2="398.6" y2="339.8" stroke="#000" stroke-width="2.7" stroke-linecap="round"/>
<line x1="426.0" y1="338.2" x2="455.8" y2="336.3" stroke="#000" stroke-width="2.7" stroke-linecap="round"/>
<path d="M484.1 315.4C486.8 316.0 495.4 317.6 500.0 319.0C504.6 320.4 512.1 322.0 511.9 323.6C511.7 325.2 503.9 326.9 499.0 328.5C494.1 330.1 485.0 332.2 482.2 333.0" fill="none" stroke="#000" stroke-width="1.8" stroke-linecap="round" stroke-linejoin="round"/>
<!-- Fig. 1a: labels -->
<text x="324.6" y="216.1" font-family='"Liberation Serif", serif' font-size="50" stroke="#000" stroke-width="0.6" stroke-linejoin="round">7</text>
<line x1="326.0" y1="217.5" x2="282.0" y2="280.0" stroke="#000" stroke-width="1.3" />
<text x="711.4" y="212.5" font-family='"Liberation Serif", serif' font-size="50" stroke="#000" stroke-width="0.6" stroke-linejoin="round">1</text>
<path d="M740.0 199.2C741.7 199.8 746.7 200.9 750.0 202.5C753.3 204.1 757.1 206.2 760.0 208.8C762.9 211.2 765.2 214.2 767.5 217.5C769.8 220.8 772.1 224.6 773.8 228.8C775.4 232.9 776.4 237.9 777.5 242.5C778.6 247.1 779.5 251.7 780.5 256.2C781.5 260.8 782.8 265.4 783.8 270.0C784.7 274.6 785.4 279.4 786.2 283.8C787.1 288.1 788.3 294.2 788.8 296.2" fill="none" stroke="#000" stroke-width="2.4" stroke-linecap="round" stroke-linejoin="round"/>
<text x="111.2" y="426.2" font-family='"Liberation Serif", serif' font-size="50" stroke="#000" stroke-width="0.6" stroke-linejoin="round">6</text>
<path d="M124.5 387.0C126.3 382.6 131.6 367.3 135.2 360.5C138.8 353.7 142.2 350.4 146.0 346.0C149.8 341.6 152.6 336.9 157.7 334.2C162.8 331.5 173.6 330.4 176.8 329.7" fill="none" stroke="#000" stroke-width="2.4" stroke-linecap="round" stroke-linejoin="round"/>
<path d="M171.3 321.9L158 326.6L160.2 330.3L167 330.8" fill="none" stroke="#000" stroke-width="2.2" stroke-linecap="round" stroke-linejoin="round"/>
<text x="877.7" y="483.6" font-family='"Liberation Serif", serif' font-size="50" stroke="#000" stroke-width="0.6" stroke-linejoin="round">2</text>
<path d="M886.2 438.6C886.0 435.6 886.3 427.5 884.7 420.6C883.1 413.7 879.4 403.7 876.9 397.2C874.4 390.7 871.9 385.2 869.8 381.6C867.7 378.0 865.3 376.4 864.4 375.3" fill="none" stroke="#000" stroke-width="2.4" stroke-linecap="round" stroke-linejoin="round"/>
<text y="610.0" font-family='"Liberation Serif", serif' font-size="50" xml:space="preserve"><tspan x="156.7" font-weight="bold">t</tspan> <tspan x="183.0" font-weight="bold" stroke="#000" stroke-width="0.5" stroke-linejoin="round">=</tspan> <tspan x="223.6" stroke="#000" stroke-width="0.9" stroke-linejoin="round">t</tspan><tspan x="236.6" y="614.0" font-size="30" stroke="#000" stroke-width="0.4">1</tspan></text>
<text x="145.9" y="864.8" font-family='"Liberation Serif", serif' font-size="50" stroke="#000" stroke-width="0.6" stroke-linejoin="round">3</text>
<path d="M160.5 827.5C161.8 825.2 164.3 817.5 168.0 814.0C171.7 810.5 177.5 808.8 182.5 806.2C187.5 803.8 193.0 801.3 198.0 799.0C203.0 796.7 210.1 793.6 212.5 792.5" fill="none" stroke="#000" stroke-width="2.4" stroke-linecap="round" stroke-linejoin="round"/>
<text x="294.8" y="863.5" font-family='"Liberation Serif", serif' font-size="50" stroke="#000" stroke-width="0.6" stroke-linejoin="round">5</text>
<line x1="327.5" y1="840.8" x2="391.0" y2="770.0" stroke="#000" stroke-width="2.3" />
<text x="425.0" y="874.4" font-family='"Liberation Serif", serif' font-size="48" font-weight="bold" stroke="#000" stroke-width="0.5" stroke-linejoin="round">Fig. 1a</text>
<text x="703.4" y="855.4" font-family='"Liberation Serif", serif' font-size="50" font-weight="bold">4</text>
<path d="M730.0 841.9C733.3 841.1 744.2 839.5 749.8 837.1C755.4 834.7 760.1 831.1 763.8 827.5C767.4 823.9 769.9 818.4 771.7 815.2C773.5 812.0 774.0 809.3 774.4 808.1" fill="none" stroke="#000" stroke-width="2.4" stroke-linecap="round" stroke-linejoin="round"/>
<text x="809.5" y="845.0" font-family='"Liberation Serif", serif' font-size="49" stroke="#000" stroke-width="1.1" stroke-linejoin="round">v</text>
<path d="M737.8 799.7L794 799.7L794 795.5L853 802.8L794 812.3L794 808.1L737.8 808.1Z" fill="#000"/>
<polygon points="873.1,351.7 847.0,386.4 851.4,389.7 877.5,355.1" fill="url(#dk)" stroke="#000" stroke-width="1.4" stroke-linejoin="round"/>
<polygon points="843.6,383.8 822.5,423.4 854.8,392.3" fill="url(#dd)" stroke="#000" stroke-width="1.4" stroke-linejoin="round"/>
<!-- Fig. 1b: detector / mask bars -->
<rect x="164.0" y="1009.2" width="13" height="14" fill="#000"/>
<rect x="213.0" y="1008.8" width="13" height="14" fill="#000"/>
<rect x="268.0" y="1008.3" width="13" height="14" fill="#000"/>
<rect x="314.8" y="1007.9" width="13" height="14" fill="#000"/>
<rect x="369.5" y="1007.4" width="13" height="14" fill="#000"/>
<rect x="422.0" y="1007.0" width="13" height="14" fill="#000"/>
<rect x="473.5" y="1006.6" width="13" height="14" fill="#000"/>
<rect x="525.0" y="1006.1" width="13" height="14" fill="#000"/>
<rect x="580.0" y="1005.7" width="13" height="14" fill="#000"/>
<polygon points="99.5,981.4 668.7,976.9 668.7,1005.2 99.5,1010.5" fill="url(#dk)" stroke="#000" stroke-width="2.6" stroke-linejoin="miter"/>
<polygon points="133.1,1022.2 630.7,1017.7 630.7,1031.6 133.1,1035.5" fill="url(#dz)" stroke="#000" stroke-width="2.2" stroke-linejoin="miter"/>
<!-- Fig. 1b: plate -->
<line x1="411.8" y1="1491.1" x2="991.3" y2="1486.5" stroke="#000" stroke-width="1.5" />
<line x1="359.3" y1="1497.3" x2="938.8" y2="1492.7" stroke="#000" stroke-width="1.5" />
<line x1="306.8" y1="1503.5" x2="886.3" y2="1498.9" stroke="#000" stroke-width="1.5" />
<line x1="246.5" y1="1510.7" x2="826.0" y2="1506.1" stroke="#000" stroke-width="1.5" />
<line x1="191.4" y1="1517.2" x2="770.9" y2="1512.6" stroke="#000" stroke-width="1.5" />
<line x1="150.4" y1="1523.2" x2="411.8" y2="1491.1" stroke="#000" stroke-width="1.5" />
<polygon points="727.9,1518.6 991.3,1486.5 991.3,1509.7 727.9,1544.9" fill="#fff" stroke="#000" stroke-width="2.0" stroke-linejoin="miter"/>
<line x1="991.3" y1="1483.5" x2="991.3" y2="1509.7" stroke="#000" stroke-width="2.0" />
<polygon points="150.8,1523.6 727.5,1519.0 727.5,1544.5 150.8,1548.3" fill="url(#dz)" stroke="#000" stroke-width="2.8" stroke-linejoin="miter"/>
<!-- Fig. 1b: incident beam -->
<line x1="728.0" y1="1028.0" x2="367.0" y2="1505.0" stroke="#000" stroke-width="2.35" />
<line x1="742.0" y1="1028.0" x2="381.0" y2="1505.0" stroke="#000" stroke-width="2.35" />
<line x1="758.8" y1="1028.0" x2="397.8" y2="1505.0" stroke="#000" stroke-width="2.35" />
<line x1="777.5" y1="1028.0" x2="416.5" y2="1505.0" stroke="#000" stroke-width="2.35" />
<line x1="794.5" y1="1028.0" x2="433.5" y2="1505.0" stroke="#000" stroke-width="2.35" />
<line x1="815.5" y1="1028.0" x2="454.5" y2="1505.0" stroke="#000" stroke-width="2.35" />
<line x1="835.0" y1="1028.0" x2="474.0" y2="1505.0" stroke="#000" stroke-width="2.35" />
<line x1="851.2" y1="1028.0" x2="490.2" y2="1505.0" stroke="#000" stroke-width="2.35" />
<line x1="867.0" y1="1028.0" x2="506.0" y2="1505.0" stroke="#000" stroke-width="2.35" />
<line x1="883.8" y1="1028.0" x2="522.8" y2="1505.0" stroke="#000" stroke-width="2.35" />
<line x1="898.8" y1="1028.0" x2="537.8" y2="1505.0" stroke="#000" stroke-width="2.35" />
<!-- Fig. 1b: scattered rays -->
<line x1="284.2" y1="1035.5" x2="504.0" y2="1499.5" stroke="#000" stroke-width="2.2" />
<line x1="284.2" y1="1035.5" x2="521.5" y2="1499.5" stroke="#000" stroke-width="2.2" />
<line x1="375.0" y1="1034.8" x2="504.0" y2="1499.5" stroke="#000" stroke-width="2.2" />
<line x1="375.0" y1="1034.8" x2="521.5" y2="1499.5" stroke="#000" stroke-width="2.2" />
<line x1="491.8" y1="1034.0" x2="504.0" y2="1499.5" stroke="#000" stroke-width="2.2" />
<line x1="491.8" y1="1034.0" x2="521.5" y2="1499.5" stroke="#000" stroke-width="2.2" />
<line x1="600.6" y1="1033.0" x2="504.0" y2="1499.5" stroke="#000" stroke-width="2.2" />
<line x1="600.6" y1="1033.0" x2="521.5" y2="1499.5" stroke="#000" stroke-width="2.2" />
<ellipse cx="516.3" cy="1502" rx="14.7" ry="5" fill="none" stroke="#000" stroke-width="2.4"/>
<rect x="506" y="1510" width="9.6" height="9.5" fill="#000"/>
<!-- Fig. 1b: lens (dashed ellipse) -->
<line x1="306.6" y1="1060.8" x2="336.0" y2="1058.8" stroke="#000" stroke-width="2.7" stroke-linecap="round"/>
<line x1="364.3" y1="1056.5" x2="392.6" y2="1055.5" stroke="#000" stroke-width="2.7" stroke-linecap="round"/>
<line x1="420.5" y1="1054.5" x2="449.8" y2="1054.3" stroke="#000" stroke-width="2.7" stroke-linecap="round"/>
<line x1="477.1" y1="1054.1" x2="505.4" y2="1055.1" stroke="#000" stroke-width="2.7" stroke-linecap="round"/>
<line x1="533.4" y1="1056.1" x2="562.7" y2="1058.0" stroke="#000" stroke-width="2.7" stroke-linecap="round"/>
<line x1="308.6" y1="1081.9" x2="334.0" y2="1083.2" stroke="#000" stroke-width="2.7" stroke-linecap="round"/>
<line x1="361.7" y1="1084.8" x2="386.7" y2="1086.2" stroke="#000" stroke-width="2.7" stroke-linecap="round"/>
<line x1="418.4" y1="1086.2" x2="447.8" y2="1086.2" stroke="#000" stroke-width="2.7" stroke-linecap="round"/>
<line x1="475.2" y1="1085.4" x2="503.5" y2="1084.8" stroke="#000" stroke-width="2.7" stroke-linecap="round"/>
<line x1="531.8" y1="1082.9" x2="560.7" y2="1081.3" stroke="#000" stroke-width="2.7" stroke-linecap="round"/>
<path d="M590.0 1060.8C592.7 1061.3 601.4 1062.8 606.0 1064.0C610.6 1065.2 618.0 1066.6 617.7 1068.2C617.4 1069.8 609.0 1071.9 604.0 1073.5C599.0 1075.1 590.2 1076.9 587.5 1077.6" fill="none" stroke="#000" stroke-width="1.8" stroke-linecap="round" stroke-linejoin="round"/>
<path d="M279.3 1065.9C277.8 1066.2 272.1 1066.8 270.0 1067.5C267.9 1068.2 266.5 1069.1 266.6 1070.2C266.7 1071.3 268.7 1072.9 270.5 1074.0C272.3 1075.1 276.2 1076.5 277.3 1077.0" fill="none" stroke="#000" stroke-width="1.8" stroke-linecap="round" stroke-linejoin="round"/>
<!-- Fig. 1b: labels -->
<text x="264.1" y="967.8" font-family='"Liberation Serif", serif' font-size="50" stroke="#000" stroke-width="0.6" stroke-linejoin="round">7</text>
<line x1="271.6" y1="960.0" x2="240.0" y2="1020.0" stroke="#000" stroke-width="1.3" />
<text x="765.1" y="963.2" font-family='"Liberation Serif", serif' font-size="50" stroke="#000" stroke-width="1.0" stroke-linejoin="round">1</text>
<path d="M790.5 953.8C792.1 955.6 796.8 959.8 800.0 965.0C803.2 970.2 807.3 977.5 810.0 985.0C812.7 992.5 814.8 1001.7 816.2 1010.0C817.7 1018.3 818.5 1027.0 818.8 1035.0C819.0 1043.0 818.1 1054.2 818.0 1058.0" fill="none" stroke="#000" stroke-width="2.4" stroke-linecap="round" stroke-linejoin="round"/>
<text x="217.7" y="1084.4" font-family='"Liberation Serif", serif' font-size="50" stroke="#000" stroke-width="0.6" stroke-linejoin="round">9</text>
<text x="229.9" y="1176.6" font-family='"Liberation Serif", serif' font-size="50" stroke="#000" stroke-width="0.6" stroke-linejoin="round">6</text>
<path d="M242.2 1136.9C242.6 1134.6 242.9 1127.6 244.5 1123.0C246.1 1118.4 248.8 1113.5 251.6 1109.5C254.3 1105.5 257.8 1102.2 261.0 1099.0C264.2 1095.8 266.3 1094.3 271.0 1090.0C275.7 1085.7 286.0 1075.9 289.0 1073.1" fill="none" stroke="#000" stroke-width="2.4" stroke-linecap="round" stroke-linejoin="round"/>
<text x="884.5" y="1232.7" font-family='"Liberation Serif", serif' font-size="50" stroke="#000" stroke-width="0.6" stroke-linejoin="round">2</text>
<path d="M897.0 1186.2C896.1 1182.6 893.8 1171.7 891.6 1164.4C889.4 1157.1 886.4 1147.8 883.8 1142.5C881.1 1137.2 878.9 1134.9 876.0 1132.3C873.1 1129.7 868.2 1127.8 866.6 1126.9" fill="none" stroke="#000" stroke-width="2.4" stroke-linecap="round" stroke-linejoin="round"/>
<text y="1350.8" font-family='"Liberation Serif", serif' font-size="50" xml:space="preserve"><tspan x="167.2" stroke="#000" stroke-width="1.0" stroke-linejoin="round">t</tspan> <tspan x="192.3" font-weight="bold" stroke="#000" stroke-width="0.5" stroke-linejoin="round">=</tspan> <tspan x="231.6" stroke="#000" stroke-width="1.0" stroke-linejoin="round">t</tspan><tspan x="245.6" y="1354.0" font-size="30" stroke="#000" stroke-width="0.4">2</tspan></text>
<text x="209.0" y="1606.8" font-family='"Liberation Serif", serif' font-size="50" stroke="#000" stroke-width="0.6" stroke-linejoin="round">3</text>
<path d="M217.8 1572.7C218.8 1570.1 221.3 1561.4 224.0 1557.0C226.7 1552.6 230.5 1549.2 234.0 1546.4C237.5 1543.6 241.1 1541.7 245.0 1540.0C248.9 1538.3 255.3 1536.7 257.4 1536.0" fill="none" stroke="#000" stroke-width="2.4" stroke-linecap="round" stroke-linejoin="round"/>
<text x="445.8" y="1606.8" font-family='"Liberation Serif", serif' font-size="50" stroke="#000" stroke-width="0.6" stroke-linejoin="round">5</text>
<line x1="462.5" y1="1571.3" x2="509.0" y2="1518.0" stroke="#000" stroke-width="2.3" />
<text x="268.7" y="1628.0" font-family='"Liberation Serif", serif' font-size="48" font-weight="bold" stroke="#000" stroke-width="0.5" stroke-linejoin="round">Fig. 1b</text>
<text x="658.5" y="1601.7" font-family='"Liberation Serif", serif' font-size="50" stroke="#000" stroke-width="0.6" stroke-linejoin="round">8</text>
<text x="805.4" y="1600.4" font-family='"Liberation Serif", serif' font-size="50" font-weight="bold">4</text>
<path d="M830.4 1572.7C833.0 1571.7 842.0 1568.8 845.9 1566.7C849.8 1564.6 851.9 1562.3 854.0 1560.0C856.1 1557.7 858.0 1553.9 858.8 1552.7" fill="none" stroke="#000" stroke-width="2.4" stroke-linecap="round" stroke-linejoin="round"/>
<text x="905.1" y="1589.5" font-family='"Liberation Serif", serif' font-size="49" stroke="#000" stroke-width="1.1" stroke-linejoin="round">v</text>
<path d="M831.9 1544.1L888.4 1544.1L888.4 1539.8L947.5 1546.7L888.4 1557.0L888.4 1552.7L831.9 1552.7Z" fill="#000"/>
<polygon points="874.5,1106.5 848.1,1141.8 852.5,1145.0 878.9,1109.7" fill="url(#dz)" stroke="#000" stroke-width="1.4" stroke-linejoin="round"/>
<polygon points="845.3,1139.7 824.7,1177.7 855.3,1147.1" fill="url(#dz)" stroke="#000" stroke-width="1.4" stroke-linejoin="round"/>
<!-- Fig. 1b: dimensions 8 and 9 -->
<line x1="178.5" y1="1038.1" x2="178.5" y2="1062.5" stroke="#000" stroke-width="2.2" />
<line x1="282.3" y1="1038.1" x2="282.3" y2="1062.5" stroke="#000" stroke-width="2.2" />
<line x1="178.5" y1="1049.8" x2="282.3" y2="1049.8" stroke="#000" stroke-width="2.0" />
<path d="M179.0 1049.8L202.0 1038.3L202.0 1061.3Z" fill="#000"/>
<path d="M281.8 1049.8L258.8 1038.3L258.8 1061.3Z" fill="#000"/>
<line x1="623.6" y1="1552.7" x2="623.6" y2="1576.6" stroke="#000" stroke-width="2.2" />
<line x1="726.0" y1="1552.7" x2="726.0" y2="1576.6" stroke="#000" stroke-width="2.2" />
<line x1="623.6" y1="1564.0" x2="726.0" y2="1564.0" stroke="#000" stroke-width="2.0" />
<path d="M624.1 1564L647.1 1552.5L647.1 1575.5Z" fill="#000"/>
<path d="M725.5 1564L702.5 1552.5L702.5 1575.5Z" fill="#000"/>
<!-- scan specks -->
<path d="M63 171h1.4v1.4h-1.4zM161 354h1.4v1.4h-1.4zM323 672h1.4v1.4h-1.4zM630 528h1.4v1.4h-1.4zM812 510h1.4v1.4h-1.4zM874 510h1.4v1.4h-1.4zM947 552h1.4v1.4h-1.4zM972 624h1.4v1.4h-1.4zM893 158h1.4v1.4h-1.4zM412 820h1.4v1.4h-1.4zM172 1366h1.4v1.4h-1.4zM82 1462h1.4v1.4h-1.4zM254 1465h1.4v1.4h-1.4zM41 1742h1.4v1.4h-1.4zM252 1750h1.4v1.4h-1.4zM736 1684h1.4v1.4h-1.4zM938 1378h1.4v1.4h-1.4zM610 555h1.4v1.4h-1.4z" fill="#000"/>
</g>
</svg>
</body>
</html>
